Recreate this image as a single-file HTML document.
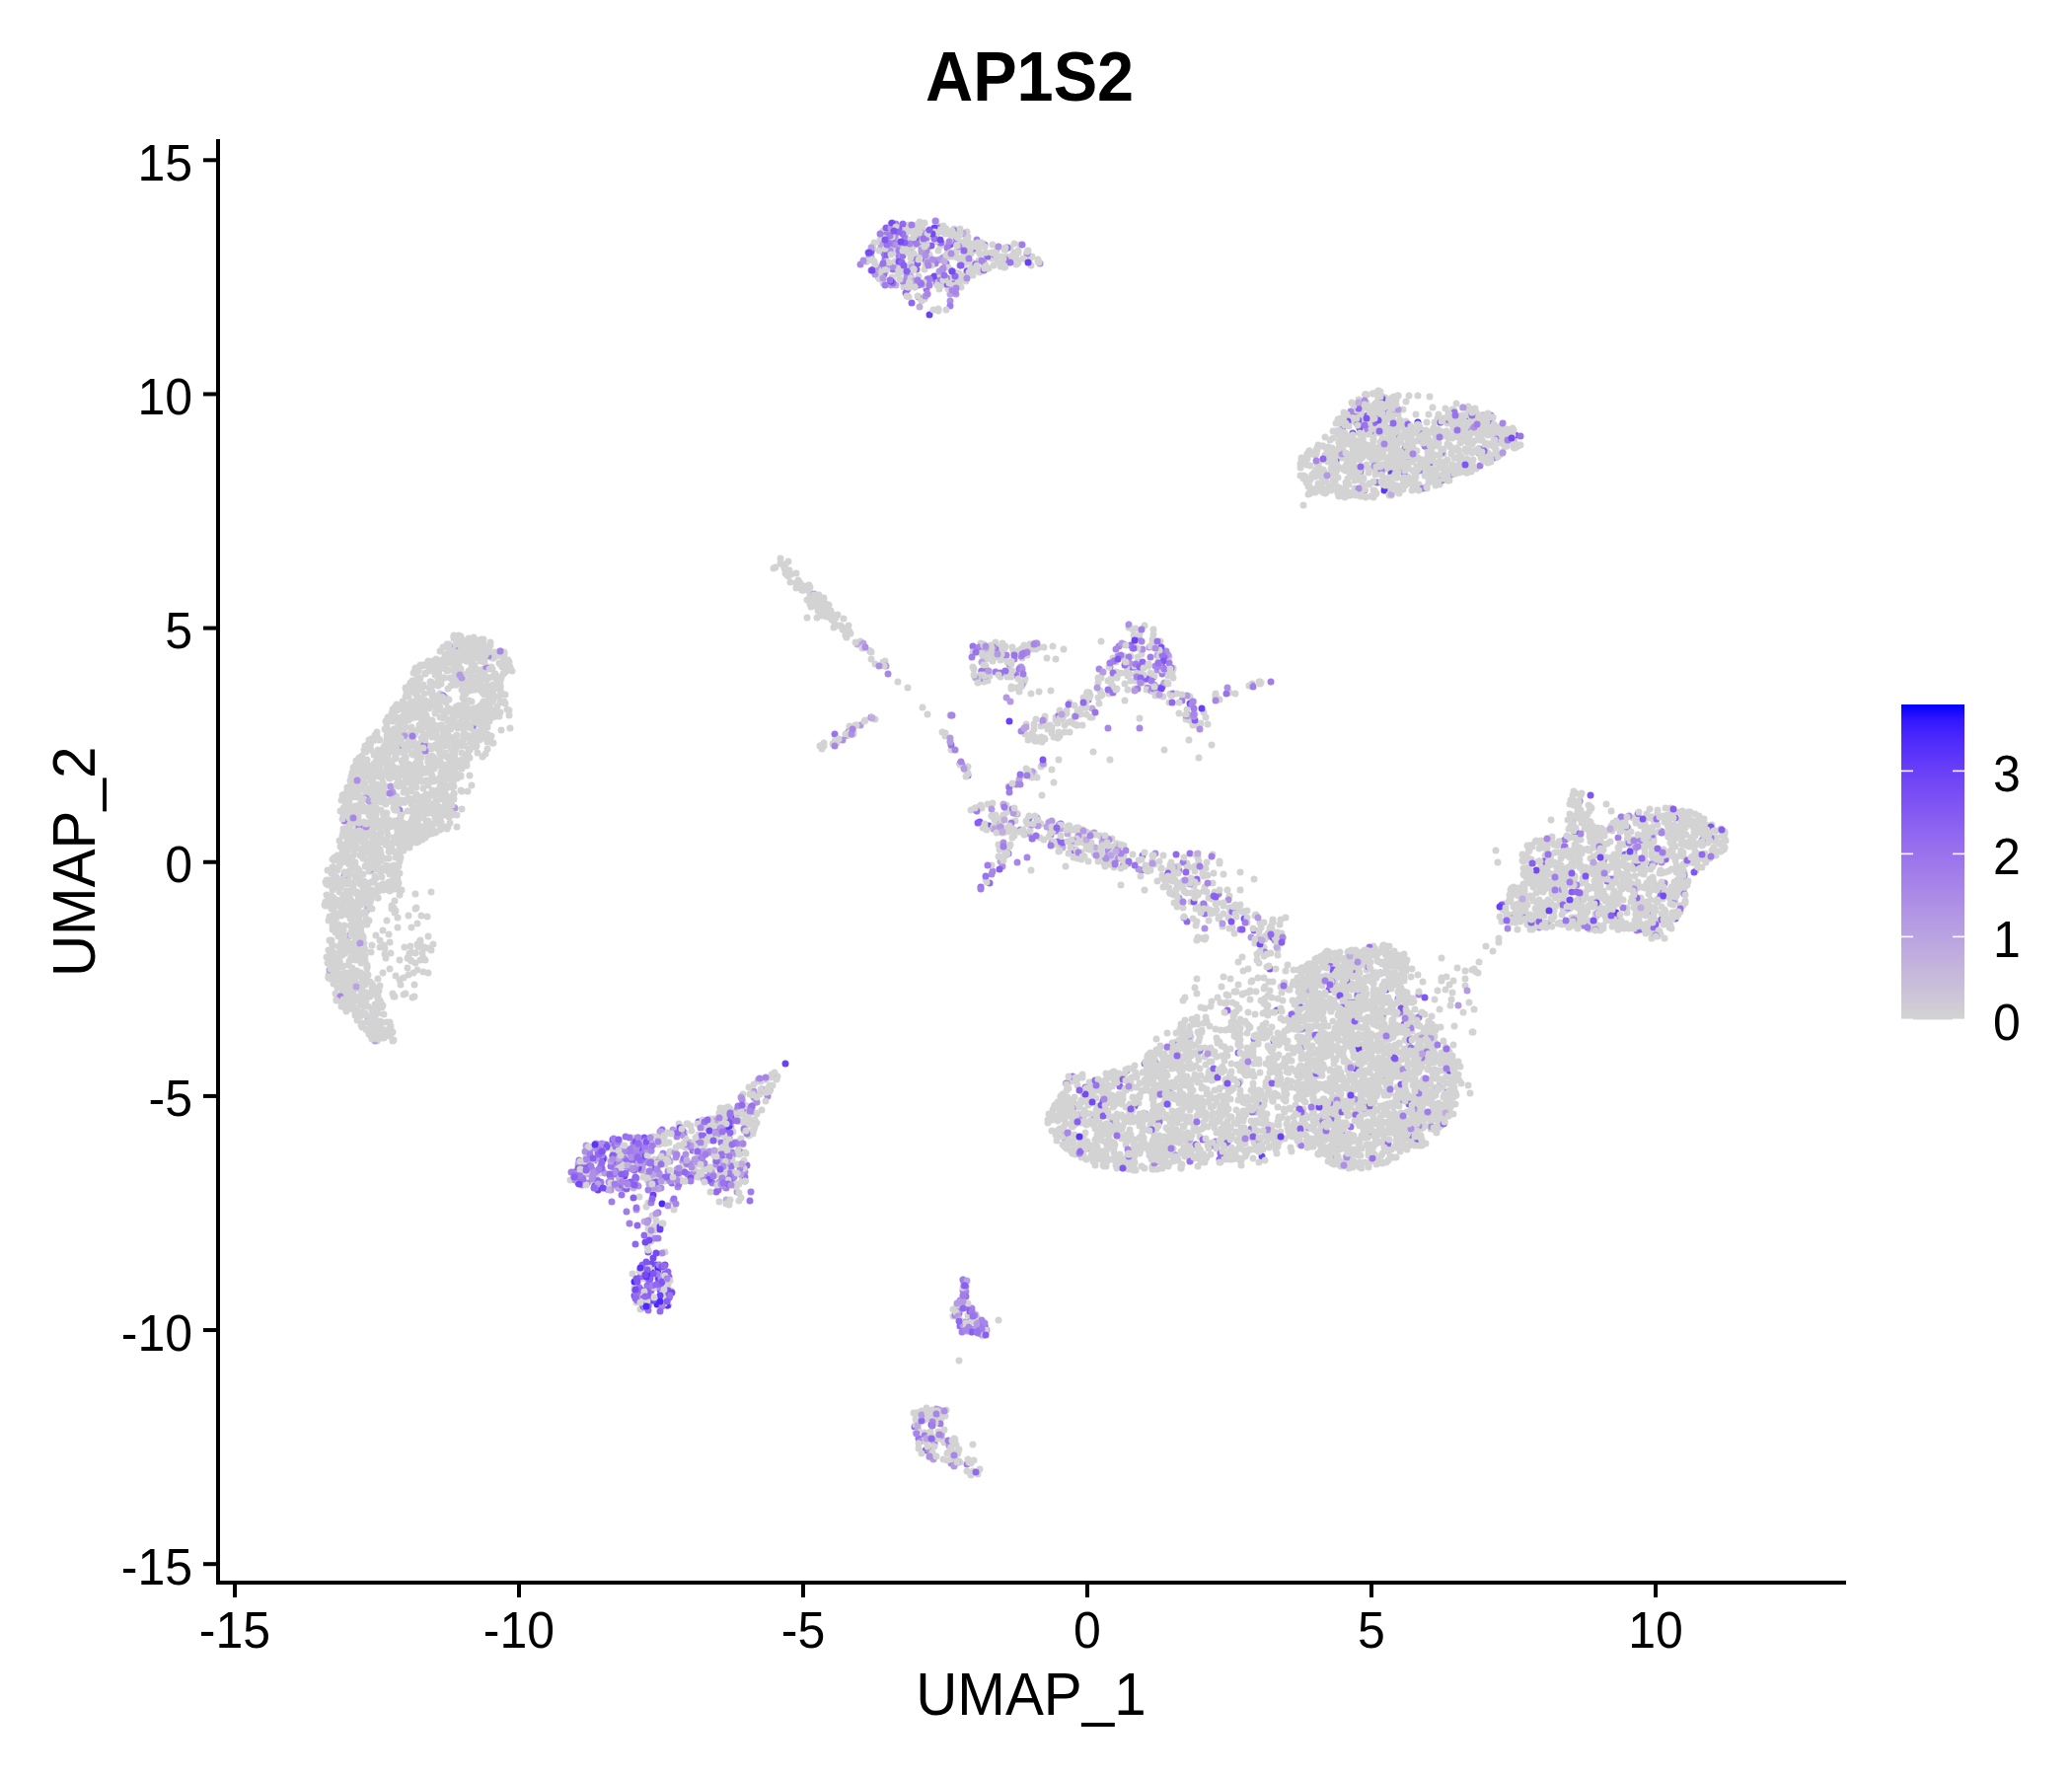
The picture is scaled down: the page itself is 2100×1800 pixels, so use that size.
<!DOCTYPE html>
<html><head><meta charset="utf-8"><title>AP1S2</title>
<style>html,body{margin:0;padding:0;background:#fff;overflow:hidden}svg{display:block}</style></head>
<body><svg width="2100" height="1800" viewBox="0 0 2100 1800" font-family='"Liberation Sans", Arial, sans-serif'>
<rect width="2100" height="1800" fill="#fff"/>
<defs><linearGradient id="g" x1="0" y1="1" x2="0" y2="0"><stop offset="0.000" stop-color="#d3d3d3"/><stop offset="0.050" stop-color="#cfcad6"/><stop offset="0.100" stop-color="#cac0d9"/><stop offset="0.150" stop-color="#c6b7db"/><stop offset="0.200" stop-color="#c1aede"/><stop offset="0.250" stop-color="#bba5e0"/><stop offset="0.300" stop-color="#b69ce3"/><stop offset="0.350" stop-color="#b093e5"/><stop offset="0.400" stop-color="#aa89e7"/><stop offset="0.450" stop-color="#a480ea"/><stop offset="0.500" stop-color="#9d77ec"/><stop offset="0.550" stop-color="#966eee"/><stop offset="0.600" stop-color="#8e65f0"/><stop offset="0.650" stop-color="#855bf2"/><stop offset="0.700" stop-color="#7c51f4"/><stop offset="0.750" stop-color="#7248f6"/><stop offset="0.800" stop-color="#673df8"/><stop offset="0.850" stop-color="#5932fa"/><stop offset="0.900" stop-color="#4926fb"/><stop offset="0.950" stop-color="#3318fd"/><stop offset="1.000" stop-color="#0000ff"/></linearGradient></defs>
<g fill="none" stroke-width="7" stroke-linecap="round"><path stroke="#d3d3d3" d="M915 234h0m34-1h0m10 1h0m0-2h0m8 0h0m-72 11h0m22-3h0m5 4h0m13 0h0m31 3h0m3-4h0m10 0h0m-80 11h0m18-6h0m36 1h0m36 2h0m21 3h0m22 0h0m-119 7h0m21-3h0m20 4h0m13-6h0m38 6h0m10-2h0m5 0h0m8-4h0m16 6h0m-158 3h0m37 2h0m84 2h0m13-4h0m3 1h0m22 3h0m-154 6h0m19-2h0m3 0h0m2 3h0m22-3h0m19 0h0m8 1h0m4 2h0m12-3h0m19 0h0m-94 11h0m15-4h0m22 2h0m10 5h0m-36 4h0m11 0h0m47 0h0m-37 12h0m458 95h0m4-1h0m-20 10h0m18-5h0m4 0h0m4 3h0m4 1h0m16 1h0m-41 6h0m8-2h0m1-1h0m59 3h0m13 1h0m17-1h0m13 1h0m-132 9h0m8-2h0m7-1h0m24-3h0m5 2h0m64 2h0m20 0h0m14 2h0m-147 2h0m15 1h0m1 2h0m1-3h0m4 3h0m2-4h0m4 3h0m6 1h0m7-4h0m4 5h0m17-3h0m0 2h0m6-1h0m33-1h0m1-2h0m4 0h0m4 5h0m7-3h0m5 1h0m10 3h0m7 1h0m12-4h0m-130 12h0m18-4h0m10 3h0m17 1h0m1-6h0m19 6h0m14-2h0m11 2h0m11-1h0m5-1h0m1 1h0m0-6h0m10 1h0m19-1h0m17 5h0m1-2h0m-174 10h0m4-2h0m2-1h0m11 5h0m4-7h0m13 7h0m14 0h0m9-7h0m9 3h0m2 0h0m7 4h0m14-4h0m21-2h0m17 1h0m15 3h0m13-5h0m22 7h0m-160 7h0m2-6h0m5 5h0m2-1h0m7 0h0m6 2h0m3-2h0m8 0h0m8-4h0m11 1h0m23 0h0m1 6h0m37-6h0m17 6h0m35-4h0m-215 10h0m0-1h0m1 1h0m8-5h0m12 2h0m12 3h0m17-4h0m25-1h0m12 4h0m9 0h0m13-3h0m29 3h0m8-1h0m0 1h0m15-2h0m-151 12h0m0 0h0m12-5h0m20 6h0m24-4h0m18 0h0m7 4h0m14-4h0m1-2h0m51 1h0m5-1h0m-169 9h0m39 0h0m30 2h0m2-1h0m16-1h0m22 1h0m6 2h0m17 2h0m17-2h0m7 1h0m-153 4h0m7 4h0m46-4h0m6 0h0m67 0h0m1 3h0m5-1h0m2 0h0m1 3h0m5-5h0m2-2h0m6 7h0m-125 1h0m23 3h0m27-2h0m17 1h0m27 1h0m-112 10h0m1-1h0m28-3h0m11 4h0m14-5h0m3 0h0m28 4h0m11-4h0m-631 75h0m-7 5h0m14 4h0m2-2h0m20 19h0m0-4h0m0 6h0m1-4h0m1 11h0m13 0h0m-17 2h0m3 4h0m3 1h0m2-2h0m5 1h0m2 1h0m9 6h0m0 7h0m3 3h0m7 5h0m4 5h0m295-2h0m18 1h0m-709 6h0m6 2h0m1-1h0m-6 10h0m13-2h0m5-2h0m5-2h0m2 2h0m4 3h0m519-3h0m58 4h0m-618 1h0m19 4h0m4-3h0m0 4h0m8-3h0m8 3h0m7 2h0m505-6h0m4 5h0m1-4h0m3 1h0m1 1h0m5-4h0m-580 14h0m15 1h0m10 0h0m0-2h0m10-3h0m15 1h0m16 0h0m5-3h0m378 4h0m12 3h0m2-1h0m144-6h0m29 4h0m70 2h0m45-4h0m-758 9h0m8 3h0m5 0h0m0 0h0m26-1h0m17 2h0m8-1h0m3-2h0m12-4h0m381 1h0m112 2h0m152 0h0m0 2h0m38 1h0m-763 9h0m0 0h0m9-7h0m33 3h0m31 3h0m3-3h0m9-1h0m483-1h0m9 4h0m18-1h0m1-2h0m110 5h0m51-6h0m-713 12h0m12-3h0m5 3h0m11 2h0m1-1h0m4-6h0m494 3h0m154-1h0m118 3h0m-857 6h0m4 2h0m5 2h0m16-7h0m9 7h0m31-6h0m11 3h0m4 1h0m541 0h0m91 2h0m4-7h0m118 6h0m6 1h0m-821 7h0m21-3h0m38 4h0m4 0h0m1-6h0m2 2h0m3 1h0m616-3h0m-705 9h0m3 5h0m2-1h0m9-3h0m0 1h0m7 0h0m3 2h0m2-5h0m6-1h0m0 2h0m17 5h0m3-3h0m2-1h0m22 4h0m0-4h0m11 4h0m586-7h0m-682 8h0m0 0h0m14 2h0m0 1h0m9 2h0m1-5h0m4 1h0m16-1h0m8 0h0m8 3h0m1 2h0m27-2h0m5 4h0m0-3h0m0 0h0m4 3h0m582-7h0m8 6h0m18 1h0m115 0h0m-824 4h0m0 0h0m6 3h0m5-4h0m8-2h0m15 0h0m2 1h0m25 3h0m15-4h0m7 2h0m2 3h0m3-1h0m0-2h0m6-2h0m1 2h0m3 1h0m381-1h0m163 4h0m10-5h0m152 0h0m22 5h0m-826 7h0m8-2h0m3 3h0m23-6h0m11 1h0m36 1h0m382 1h0m205 0h0m13 3h0m-705 8h0m2-1h0m8 1h0m1 0h0m12 1h0m5-1h0m13-6h0m34 2h0m7 1h0m7-2h0m8 1h0m392-2h0m100 7h0m76-7h0m35 2h0m-703 11h0m47-1h0m7 1h0m0-3h0m2 4h0m4-4h0m4 2h0m44-4h0m3 5h0m17-4h0m333 3h0m-463 4h0m7 0h0m3 5h0m10 1h0m4-4h0m13-1h0m17 2h0m22-2h0m4 4h0m11 0h0m16-5h0m8 3h0m480-3h0m-600 8h0m28 4h0m4 3h0m12-2h0m2-5h0m3 6h0m54 1h0m591 0h0m-701 8h0m6-6h0m7 1h0m14 0h0m2 4h0m9-1h0m1-4h0m5 6h0m28-2h0m15-5h0m5 7h0m12-1h0m3-5h0m4 2h0m-69 5h0m3 0h0m7 0h0m5 4h0m9-3h0m4-1h0m10 7h0m13-5h0m1 0h0m0 4h0m12-1h0m-111 9h0m4 1h0m14-5h0m34 3h0m18 1h0m5-6h0m27 6h0m568-1h0m-670 4h0m0-1h0m18 7h0m6-4h0m26 4h0m39-3h0m1 0h0m8 1h0m10 0h0m1135-3h0m2 2h0m6 0h0m-1237 10h0m25 1h0m8-1h0m5-1h0m6 0h0m4-4h0m4 1h0m5 2h0m6 0h0m9 3h0m4-3h0m1155 0h0m-1247 7h0m15 2h0m15-3h0m23-1h0m10 5h0m18 0h0m6 0h0m3 1h0m3-3h0m2-1h0m7-1h0m5 2h0m538-1h0m638 3h0m55-3h0m23 4h0m-1363 2h0m33 1h0m26-1h0m13 1h0m0-2h0m4 3h0m5 2h0m12-2h0m17-3h0m1131 7h0m4-4h0m14 0h0m37 1h0m3 2h0m24-1h0m5 2h0m10-4h0m21 4h0m0-2h0m5 0h0m10-2h0m2 3h0m-1366 3h0m15 1h0m17 4h0m14 1h0m20-3h0m9 0h0m5 2h0m1-3h0m3-1h0m12 4h0m560-4h0m41 1h0m8-2h0m21 4h0m519-3h0m1-2h0m4 1h0m4 5h0m28-6h0m4 1h0m1 5h0m1 1h0m24 0h0m34-4h0m5-2h0m5 1h0m1 2h0m4 0h0m16 0h0m-1386 10h0m2-1h0m2-3h0m9 0h0m6 3h0m14 1h0m10-4h0m14 5h0m2-1h0m7-3h0m0 4h0m31-6h0m0 0h0m579 0h0m69 6h0m3 0h0m0-6h0m498 3h0m1 0h0m1-4h0m0 7h0m15-5h0m4 4h0m47 1h0m12-3h0m1 1h0m9-2h0m6 3h0m13-1h0m1-2h0m12 1h0m1 3h0m21-5h0m9 3h0m-1390 8h0m12 0h0m0-3h0m3 5h0m2 0h0m15-2h0m14 2h0m6-7h0m6 2h0m638-1h0m33 5h0m40-4h0m455 3h0m7-4h0m22-1h0m4 6h0m1-5h0m16 4h0m21 0h0m1-1h0m1-1h0m1 3h0m12 0h0m1 0h0m7-4h0m28-1h0m35 0h0m7 5h0m-1366 7h0m2 0h0m3 0h0m9 2h0m624-2h0m56 0h0m1-2h0m15 2h0m38-3h0m4 4h0m384 0h0m37-4h0m11 1h0m32 1h0m57-2h0m3-1h0m18 2h0m1 2h0m3-1h0m20-2h0m11-2h0m9 7h0m7-6h0m22 1h0m-1410 13h0m11 0h0m4-2h0m14-3h0m12 5h0m4-5h0m12 4h0m7-1h0m3-3h0m688 4h0m7-2h0m12-2h0m7 1h0m50 0h0m401 2h0m15-2h0m4 0h0m3 2h0m10-4h0m73-1h0m16 3h0m6 1h0m31 1h0m5 1h0m-1375 5h0m19-2h0m1-1h0m752 7h0m32-2h0m26 1h0m16-3h0m2 4h0m6-1h0m12-4h0m324-2h0m19 6h0m6-3h0m2 1h0m1-2h0m4 1h0m14 1h0m9 1h0m17 0h0m34 2h0m23-4h0m32 0h0m20-3h0m-1374 14h0m8 0h0m23-4h0m1-1h0m8 3h0m1 2h0m3-5h0m3 1h0m1-2h0m1 7h0m775 0h0m6-5h0m4-1h0m52 5h0m304 0h0m2-6h0m5 3h0m7 1h0m16 2h0m6-3h0m2-3h0m4 2h0m18 1h0m1-3h0m10 1h0m10 1h0m1 0h0m81 2h0m-1371 11h0m61 0h0m802-2h0m2 0h0m3 0h0m10 1h0m15 1h0m323 0h0m8-1h0m11 0h0m3-1h0m12-5h0m3 0h0m6 4h0m11 2h0m12-4h0m27 2h0m0 0h0m1 0h0m5-4h0m21 6h0m4 0h0m21 0h0m3-2h0m7-4h0m4 5h0m-1374 3h0m4 3h0m1-2h0m26 2h0m29-3h0m2 5h0m3-1h0m758 2h0m50-4h0m321 4h0m2 1h0m12-3h0m10-2h0m11 0h0m12 1h0m12-2h0m33 6h0m2 0h0m6-4h0m12 2h0m33-3h0m21 2h0m3-3h0m2 1h0m4 4h0m1-3h0m-1363 5h0m4 4h0m6-3h0m1 6h0m5-6h0m4 4h0m2-4h0m2 6h0m3-1h0m50-4h0m782-1h0m43 3h0m284-1h0m3-3h0m40 0h0m2 0h0m1 2h0m8 1h0m3-2h0m19 2h0m1 1h0m14 2h0m1-3h0m2-1h0m12 2h0m18 2h0m34-5h0m-1358 13h0m2-5h0m10 4h0m4 2h0m2-6h0m0 1h0m6-2h0m1 5h0m10 0h0m842-3h0m12 2h0m3 3h0m300 0h0m26-2h0m15-1h0m34 2h0m5 0h0m16 0h0m12-5h0m8 3h0m7-4h0m15 7h0m3-5h0m16 0h0m26 4h0m-1367 3h0m16 3h0m5-2h0m6 4h0m862-3h0m20 1h0m7-2h0m5 2h0m270 3h0m5 0h0m11-1h0m11-5h0m5 1h0m56 4h0m18-6h0m14 0h0m10 5h0m4-3h0m3-1h0m6 4h0m3-3h0m-1339 9h0m20 0h0m6 4h0m12-2h0m18 0h0m833 0h0m47-5h0m18 6h0m13-4h0m233 5h0m0-7h0m24 3h0m15-2h0m6 6h0m15-5h0m4 0h0m4-2h0m6 6h0m6 0h0m15-6h0m46 6h0m3-1h0m12-1h0m3-3h0m-1348 13h0m1 1h0m15-6h0m3 0h0m883 3h0m38 1h0m2 0h0m262 1h0m48-1h0m26 0h0m25-2h0m4 1h0m4-3h0m3-1h0m7 3h0m5 1h0m20-2h0m-1333 7h0m1 3h0m33-1h0m820 3h0m78-4h0m381-1h0m4 0h0m0 1h0m3 3h0m3-2h0m-1339 12h0m12-2h0m6-1h0m0 2h0m4-4h0m60 2h0m13 1h0m782-5h0m171 7h0m114 0h0m-1171 7h0m14-1h0m11-4h0m1 1h0m35 4h0m885-6h0m64 4h0m0 2h0m25-2h0m16 2h0m14-2h0m6 1h0m3 2h0m-1071 8h0m2-3h0m1-4h0m14 5h0m11 2h0m1 0h0m38-2h0m9-3h0m1 2h0m880-4h0m38 6h0m0-2h0m2 1h0m19-4h0m10 2h0m12-1h0m7 3h0m24-5h0m1 1h0m1 0h0m3-1h0m2 0h0m0 6h0m6-5h0m-1079 14h0m0-7h0m5 4h0m959-2h0m6 5h0m13-4h0m4-2h0m1 2h0m46 0h0m10 4h0m19-5h0m9 1h0m81 3h0m-1158 3h0m7 2h0m4 0h0m15-3h0m941 0h0m16 3h0m4-3h0m9 2h0m1 4h0m59-4h0m13-1h0m3 5h0m29-2h0m-1099 9h0m1-2h0m13-3h0m13 5h0m10-2h0m8-3h0m22 1h0m15 5h0m849-4h0m42 1h0m4 4h0m3-3h0m3 0h0m7 3h0m3-1h0m3-4h0m2-2h0m15 3h0m2 2h0m7 1h0m10-1h0m18-3h0m4-2h0m16 7h0m3-1h0m4 0h0m54 0h0m-1122 8h0m11-5h0m0 4h0m19-4h0m2 1h0m5 2h0m27 3h0m802 0h0m86-1h0m18-2h0m3 2h0m11-5h0m31-1h0m2 0h0m18 5h0m11-2h0m-1037 11h0m8-3h0m3 1h0m2-2h0m6-2h0m8 4h0m2 2h0m816-3h0m44-2h0m37 3h0m40 2h0m7 0h0m22 1h0m24-5h0m4 1h0m1-3h0m2 3h0m10-1h0m1-2h0m12 4h0m66 1h0m-1116 5h0m31 0h0m2 1h0m833 3h0m22-6h0m38 1h0m35 0h0m25 2h0m7 3h0m1-4h0m3 2h0m13 2h0m7 1h0m0-2h0m7-2h0m12 2h0m18 2h0m-1030 8h0m834 0h0m29-5h0m11-1h0m32 4h0m39 0h0m1-1h0m16-2h0m16 1h0m2 4h0m32-7h0m1 1h0m5 0h0m8 0h0m19-1h0m14 7h0m2-4h0m2 0h0m-1066 9h0m3-3h0m0 2h0m835 3h0m6-1h0m60 2h0m3-2h0m28 0h0m48-2h0m1-3h0m3 3h0m29 3h0m0-3h0m19 1h0m4 3h0m16 0h0m-1060 4h0m19 1h0m0 2h0m6-2h0m805 3h0m5 0h0m0-7h0m9 7h0m31-4h0m11-1h0m9 0h0m16 3h0m34-1h0m9-2h0m2 0h0m2-1h0m11-1h0m13 4h0m0-2h0m9 1h0m0 2h0m1-1h0m14-3h0m29 5h0m9 1h0m28-4h0m1 2h0m-1068 5h0m5 1h0m1 4h0m813-1h0m5-2h0m7-1h0m26 1h0m1 3h0m17-5h0m6 4h0m15-3h0m1-2h0m8 0h0m2 2h0m18 0h0m20 1h0m15 3h0m9-2h0m4-1h0m40 1h0m9-4h0m6 3h0m0 2h0m7-3h0m39 1h0m-274 8h0m9 1h0m7-5h0m63 3h0m41 0h0m22 0h0m5-3h0m16 7h0m26-6h0m10 6h0m5-2h0m0 1h0m1-3h0m6 4h0m2-2h0m12-4h0m7 3h0m6-1h0m39 1h0m0-2h0m12 5h0m8-4h0m-308 9h0m4 0h0m4-2h0m15 1h0m16 4h0m2-1h0m8 0h0m19 1h0m29 0h0m72-4h0m6-2h0m45 3h0m5 2h0m15-4h0m4 5h0m6-6h0m17 4h0m8-2h0m25 1h0m4-2h0m-306 12h0m2-3h0m3 0h0m3 0h0m3 4h0m4 0h0m1-4h0m3 3h0m2 0h0m13-3h0m18-1h0m11 2h0m62 0h0m17-3h0m17-1h0m4 4h0m26-2h0m0 0h0m31 2h0m16 3h0m40-1h0m2-4h0m5-2h0m1 3h0m16 1h0m9 3h0m-345 8h0m23-7h0m8 7h0m38-1h0m2-5h0m50 5h0m11-1h0m0-4h0m32 0h0m13 5h0m38-4h0m24 0h0m28 0h0m5 2h0m9-4h0m1 4h0m4 1h0m5-4h0m5 2h0m2 3h0m-641 3h0m4 2h0m303 4h0m35-3h0m50-4h0m18 5h0m3 0h0m25 1h0m2-2h0m2 1h0m6-3h0m13 4h0m1 1h0m23-5h0m82 5h0m1-5h0m4 4h0m5 0h0m7-1h0m0-4h0m3 4h0m11-2h0m11 3h0m3-3h0m7-2h0m21 5h0m42-3h0m6 2h0m6-4h0m-710 7h0m315 7h0m3-7h0m18 1h0m59 2h0m9 3h0m10-5h0m0 1h0m14 3h0m5-4h0m2 1h0m3 5h0m12 0h0m39-7h0m43 3h0m14 4h0m4-1h0m1 0h0m21 0h0m10 0h0m4-1h0m3 1h0m30-4h0m15-2h0m30 4h0m14-4h0m12 7h0m4-1h0m-387 9h0m23-2h0m2 2h0m7-3h0m14 0h0m12 3h0m7-6h0m15 5h0m2-4h0m16 4h0m1-4h0m1-1h0m8 2h0m24-2h0m16 4h0m23-3h0m11-1h0m15 4h0m21 0h0m2 1h0m22-2h0m15-2h0m47 4h0m7-5h0m3 5h0m6 1h0m8-4h0m6 1h0m36-1h0m10 3h0m19-2h0m-721 9h0m12 1h0m307-1h0m9-5h0m8 0h0m7 3h0m5 1h0m1-4h0m9 1h0m16 1h0m1 2h0m7 1h0m10 2h0m24-3h0m12-1h0m13-2h0m1 5h0m6-6h0m0 7h0m2-2h0m14-4h0m16 4h0m8-1h0m2-4h0m4 2h0m43 2h0m13 0h0m11-4h0m6 1h0m11 2h0m7 4h0m4-5h0m1 2h0m32 1h0m2-2h0m1 0h0m9 3h0m6-1h0m13 2h0m23-3h0m9 1h0m5-2h0m9-3h0m4 7h0m17-7h0m-725 12h0m321-4h0m13 5h0m2-3h0m27 3h0m0 2h0m34 0h0m1-7h0m29 5h0m1 2h0m18-1h0m2 1h0m15-6h0m3 2h0m58-1h0m8-2h0m21 4h0m6-1h0m14 1h0m9 1h0m12-5h0m4 6h0m10-2h0m0 3h0m21-6h0m10 3h0m45 2h0m7-4h0m9 5h0m3 0h0m7-4h0m4-3h0m2 7h0m-740 7h0m21-3h0m7-3h0m314 3h0m22-3h0m60 5h0m6 2h0m1-1h0m0-5h0m8 5h0m10-6h0m9 2h0m5 4h0m1-1h0m9-1h0m5 1h0m1-1h0m39-3h0m39 1h0m15 4h0m25-2h0m10-4h0m3 6h0m16-4h0m2 2h0m38-4h0m11 2h0m13 4h0m1-4h0m8 3h0m18-2h0m19 0h0m5-1h0m-777 9h0m42 0h0m35 3h0m297-4h0m26 0h0m3-1h0m2-1h0m10 3h0m6-2h0m15 5h0m7-1h0m59-5h0m10 6h0m10-2h0m30 0h0m49 1h0m24 0h0m5 0h0m4-3h0m6 5h0m3-7h0m10 7h0m6-4h0m2-2h0m4 5h0m24-3h0m1 2h0m39 2h0m0-5h0m11 3h0m1-5h0m11 5h0m0-5h0m2 1h0m0 6h0m15-2h0m1 2h0m0 0h0m4-4h0m2-1h0m-791 11h0m15-1h0m6 0h0m31 0h0m13 1h0m328-3h0m4 2h0m4-4h0m2 2h0m7 2h0m6 2h0m26 0h0m5-1h0m2-1h0m19 2h0m4 0h0m12 1h0m7-6h0m3-1h0m2 3h0m3-3h0m12 1h0m49 3h0m3-1h0m24 4h0m4-1h0m26-2h0m45 3h0m2-1h0m6-2h0m48 3h0m1-1h0m26-3h0m1 4h0m16-5h0m15-2h0m-822 14h0m45-5h0m1 6h0m397-3h0m15 1h0m12-5h0m14 2h0m23-2h0m22 6h0m12-3h0m23 2h0m6-3h0m18-2h0m22 0h0m1 5h0m17-3h0m6 5h0m5-6h0m2 1h0m21 0h0m6 4h0m14-6h0m23 5h0m4 0h0m3 2h0m19 0h0m3-4h0m32 2h0m9-3h0m4 2h0m9-3h0m15 2h0m2-1h0m1 0h0m-755 13h0m34-3h0m24 0h0m369-1h0m35-3h0m9 7h0m9-7h0m41 3h0m5-3h0m7 0h0m12 1h0m17 1h0m11 5h0m79-5h0m7-2h0m1 5h0m11-2h0m8 0h0m15 2h0m5-3h0m0-1h0m39-1h0m4 1h0m-827 11h0m18 1h0m486-1h0m3 3h0m34-5h0m7 3h0m2-3h0m11-1h0m26 6h0m12-3h0m17 2h0m36 1h0m6-6h0m4 5h0m14 0h0m66-5h0m12 3h0m23-4h0m6 3h0m2 0h0m10-3h0m26 5h0m-723 5h0m11 0h0m6 2h0m32-3h0m2 4h0m365-4h0m38 2h0m26-2h0m7 1h0m3 3h0m1-2h0m9-3h0m5 6h0m9-5h0m31 1h0m20-2h0m93 3h0m8-2h0m18 4h0m-774 9h0m5-1h0m32-5h0m29 5h0m36-3h0m10-1h0m22 4h0m414-4h0m18 0h0m29-1h0m-619 12h0m94 1h0m2 0h0m21 0h0m27 1h0m30-5h0m-3 7h0m-101 13h0m35 13h0m-26 19h0m3 13h0m14 11h0m-19 17h0m14-4h0m2 9h0m6 11h0m299-5h0m-333 8h0m29 8h0m318 22h0m-9 14h0m8-1h0m6-4h0m1 10h0m-67 78h0m9 6h0m6-1h0m2-2h0m8 2h0m-17 15h0m20-3h0m15 20h0m-1 4h0m-6 10h0m6-1h0"/><path stroke="#c0acde" d="M932 227h0m24 45h0m-48 17h0m199 429h0m-90 109h0m14-2h0m632 89h0m-235 128h0m-710 100h0m23 0h0m-55 52h0m50 22h0"/><path stroke="#baa3e1" d="M882 660h0m732 179h0m-498 29h0m-426 278h0m-70 13h0m79-1h0m-85 4h0m383 185h0"/><path stroke="#b499e3" d="M961 249h0m-76 25h0m537 203h0m-586 146h0m62 52h0m-26 60h0m-462 11h0m597 82h0m562 108h0m-965 223h0m88 18h0m40 8h0m-23 7h0m268 108h0m-28 128h0"/><path stroke="#ae8fe6" d="M1000 258h0m-50 6h0m-30 29h0m469 136h0m82 52h0m-338 184h0m40 14h0m-729 70h0m584 75h0m105 46h0m112 42h0m430 14h0m-115 14h0m-1187 94h0m359 99h0m429-4h0m-435 23h0m-129 24h0m13 1h0m93 12h0m276 120h0m-6 9h0m13 30h0"/><path stroke="#a886e8" d="M917 239h0m73 4h0m-56 10h0m-62 15h0m59 33h0m478 133h0m30 43h0m-285 169h0m-1 28h0m-155 6h0m32 4h0m137 0h0m-202 41h0m190 13h0m-121 103h0m628 11h0m-467 30h0m369 37h0m94-6h0m-880 198h0m-14 1h0m324 10h0m-339 7h0m-63 23h0m19 9h0m-93 13h0m-8 2h0m31 6h0m-51 6h0m-1 4h0m104 11h0m289 105h0m-12 175h0"/><path stroke="#a17ceb" d="M950 235h0m-33 7h0m17 1h0m-11 8h0m-27 6h0m72 2h0m-44 12h0m-39 2h0m64 13h0m562 135h0m-4 8h0m-104 5h0m44 4h0m-281 228h0m-41 10h0m60-4h0m-176 9h0m169 2h0m20 27h0m-708 17h0m-87 105h0m1220 8h0m17 9h0m-519 27h0m22-1h0m56-1h0m370 25h0m137 5h0m-174 27h0m-250 34h0m106 94h0m-605 31h0m317 12h0m56 31h0m112 11h0m5 20h0m-648 5h0m117-1h0m-148 13h0m11 7h0m92 2h0m-78 4h0m136 3h0m-124 7h0m4 24h0m336 96h0m13 13h0m-47 118h0m10 8h0"/><path stroke="#9972ed" d="M900 246h0m-3 16h0m111-4h0m-103 15h0m-14 9h0m500 143h0m33 29h0m-28 35h0m-387 169h0m166 18h0m-180 4h0m133 22h0m115 1h0m-794 2h0m397 39h0m177 54h0m651 50h0m-89 10h0m1 0h0m-428 9h0m48-2h0m-49 17h0m64 44h0m335 11h0m-168 23h0m-16 23h0m4 25h0m-105 45h0m-100 25h0m-94 39h0m-330 8h0m386 50h0m-400 12h0m-44 9h0m-62 8h0m101 2h0m-98 5h0m130 6h0m-112 88h0m324 26h0"/><path stroke="#9168ef" d="M899 249h0m9 3h0m-14 18h0m35 3h0m475 144h0m84 5h0m-61 8h0m-275 254h0m-69 30h0m518 98h0m-409 54h0m-54 12h0m491 15h0m71 1h0m-96 44h0m-239 56h0m58 44h0m15 27h0m4-1h0m25 43h0m-796 38h0m42 6h0m420-3h0m-469 11h0m771-1h0m-821 2h0m491 4h0m-499 5h0m26 10h0m101-3h0m-139 10h0m16 0h0m-24 13h0m49 0h0m46 0h0m45 9h0m-73 44h0m-2 30h0m1 31h0m22 7h0m302 23h0m-3 1h0"/><path stroke="#895ff1" d="M946 233h0m-39 13h0m23-5h0m-15 12h0m48-5h0m450 193h0m284 396h0m33 14h0m-609 20h0m63 14h0m409 19h0m91 28h0m-365 89h0m-539 84h0m405 2h0m-588 58h0m38 0h0m-44 17h0m29-4h0m10 0h0m113 21h0m195 271h0"/><path stroke="#7f55f3" d="M910 268h0m571 178h0m52 1h0m2 5h0m-432 257h0m-110 124h0m627 10h0m-333 139h0m79 29h0m-176 48h0m-569 96h0m-30 31h0m6-2h0m60 85h0m0 37h0m20 17h0"/><path stroke="#754af5" d="M1418 444h0m31 28h0m121 379h0m-192 152h0m27 0h0m-296 131h0"/><path stroke="#6940f7" d="M925 273h0m17 46h0m-191 849h0m603 5h0m-729 4h0m37 34h0m3 71h0m4 25h0"/><path stroke="#4b28fb" d="M671 1220h0m-28 79h0"/><path stroke="#d3d3d3" d="M921 228h0m11-3h0m17-1h0m2 5h0m-39 5h0m10 0h0m4 2h0m5 2h0m-37 2h0m1 5h0m2-4h0m11-1h0m31 5h0m39 0h0m3-5h0m1 6h0m46 1h0m-126 2h0m5 0h0m2 5h0m3-5h0m4 3h0m25-1h0m36 2h0m8 0h0m21-5h0m13 5h0m5-2h0m18 3h0m-159 3h0m77 0h0m5 3h0m3-3h0m41 0h0m17 2h0m20 1h0m6 3h0m-150 7h0m11-6h0m28 2h0m38 0h0m13-2h0m22 6h0m9-5h0m7 3h0m1-1h0m-134 6h0m1 2h0m12 3h0m4-5h0m72 6h0m2-5h0m-37 9h0m17 3h0m3-4h0m-39 6h0m21 1h0m-19 16h0m17 10h0m0-2h0m441 86h0m5 8h0m0-3h0m5 0h0m2-1h0m9-1h0m4-1h0m-45 9h0m2 0h0m5 3h0m15-3h0m8 1h0m70 4h0m-97 6h0m4-4h0m9 1h0m13 1h0m14-2h0m1 0h0m32 3h0m26-4h0m7 5h0m9-5h0m1 7h0m7 0h0m-144 6h0m9-4h0m3 2h0m6-1h0m8 2h0m3-1h0m19-3h0m52 4h0m3-4h0m14 2h0m1 3h0m5-3h0m10 3h0m9-3h0m-145 11h0m12 2h0m22-3h0m1 2h0m3-6h0m15 0h0m23 4h0m7-1h0m3 2h0m0 1h0m5 1h0m31-5h0m16 1h0m5 3h0m11-6h0m2 0h0m4 5h0m10-4h0m2 2h0m9 1h0m-168 10h0m3-2h0m14 2h0m4-6h0m27 4h0m18-3h0m1-1h0m9 5h0m8 2h0m7-3h0m1 1h0m19-5h0m10 4h0m17-4h0m16 4h0m11-3h0m2 2h0m-195 8h0m12 4h0m2-1h0m21 1h0m3-3h0m6 0h0m2 3h0m1-2h0m28-2h0m9-3h0m12 5h0m12-2h0m4 1h0m32-3h0m12 1h0m19 1h0m16 1h0m-200 5h0m6 4h0m24 0h0m2-5h0m12 4h0m2 0h0m2 3h0m4-6h0m2 6h0m7 0h0m3-4h0m19-2h0m10 3h0m7-2h0m7 5h0m15-5h0m48-2h0m8 0h0m0 5h0m1-4h0m-156 14h0m2-3h0m13 2h0m6-3h0m7-1h0m28 4h0m1-2h0m1 1h0m32-3h0m0 3h0m4-3h0m8 1h0m4 2h0m3-2h0m1 3h0m7-4h0m5 5h0m9-5h0m12 0h0m8-2h0m2 0h0m1 3h0m3 0h0m4 1h0m-169 10h0m10-6h0m2 1h0m1 3h0m8 0h0m3 0h0m5-2h0m25 5h0m10-4h0m10-1h0m5-2h0m16 4h0m2-2h0m26-1h0m10 5h0m1 1h0m5-1h0m5 1h0m1-4h0m9 0h0m-166 6h0m64 0h0m16 0h0m13 5h0m3-3h0m8-3h0m20 5h0m13 2h0m-110 7h0m45-2h0m5 2h0m1-1h0m2-4h0m18 1h0m4 2h0m-104 4h0m28 4h0m8-3h0m4 5h0m8-4h0m3 5h0m10 0h0m6-3h0m23 0h0m-625 72h0m6-3h0m-2 13h0m4 8h0m13 8h0m7 6h0m1 11h0m1-1h0m4 0h0m1-6h0m9 7h0m3-2h0m-9 4h0m15 8h0m12 13h0m286-2h0m16-2h0m-680 12h0m378 0h0m1-3h0m290 1h0m-686 9h0m7-4h0m4 0h0m12 0h0m2-1h0m2 0h0m7 6h0m375-4h0m166 4h0m6-1h0m4-1h0m102-1h0m18 1h0m-722 8h0m5 3h0m10 0h0m5-3h0m3-4h0m5 7h0m2-3h0m12-4h0m4 5h0m4-4h0m15 6h0m479-2h0m3-2h0m42-1h0m1-1h0m7-1h0m10 0h0m104 7h0m-723 8h0m5-1h0m13 0h0m9-4h0m3 0h0m7-1h0m2 5h0m0-6h0m16 3h0m1 2h0m20-2h0m6 4h0m493-5h0m1-1h0m6 2h0m20 0h0m95 4h0m15-6h0m-725 12h0m11-3h0m2 0h0m0 0h0m9 1h0m9 3h0m7-6h0m31 6h0m8-2h0m12-3h0m0 3h0m4 2h0m382-3h0m127 4h0m123-3h0m7-4h0m11 3h0m25 2h0m-766 9h0m1-6h0m7 3h0m19 4h0m538-1h0m6-2h0m3 0h0m119 3h0m29-4h0m-720 5h0m11 3h0m26 3h0m1-5h0m19 3h0m1-4h0m518 2h0m37 1h0m88-3h0m1 7h0m150-4h0m-865 8h0m11 2h0m3-2h0m9-2h0m35 6h0m1-3h0m1 3h0m4-3h0m4-4h0m440 1h0m125 6h0m87-5h0m18 0h0m36 5h0m46 0h0m-815 8h0m6-5h0m9 5h0m6-1h0m7-3h0m24 0h0m636-2h0m66 0h0m8 1h0m53 0h0m-808 7h0m20 5h0m26-2h0m0-1h0m22 3h0m2-3h0m10 1h0m585-1h0m25-2h0m89 6h0m-804 7h0m25-1h0m1 2h0m4-3h0m3 1h0m27 1h0m5-4h0m20 0h0m13 5h0m443-3h0m130 3h0m8-2h0m14-4h0m3 3h0m-654 11h0m13-4h0m1 1h0m29 2h0m5 0h0m559 0h0m29-6h0m2 7h0m127-5h0m5 3h0m2 2h0m3 0h0m-823 5h0m9-2h0m19 5h0m29 0h0m1-1h0m3 0h0m10-4h0m11-1h0m13 3h0m377 1h0m0 1h0m190-6h0m11 7h0m-686 2h0m0 5h0m22-3h0m4 2h0m22-1h0m10-1h0m16 0h0m24 0h0m1 4h0m5-7h0m362 7h0m19-7h0m180 1h0m4 6h0m10-2h0m9-2h0m-679 10h0m9 0h0m5 1h0m7 1h0m5-6h0m11 3h0m28-1h0m8 4h0m14 0h0m4-2h0m14 2h0m339 0h0m11-5h0m3-1h0m1 0h0m-466 10h0m1-3h0m6 1h0m8 1h0m13 1h0m1-3h0m10 2h0m25 2h0m13-1h0m0-1h0m30 5h0m-128 4h0m30-3h0m16 3h0m2 3h0m16-5h0m2-1h0m7 4h0m1 3h0m11-5h0m15-2h0m0 6h0m-103 9h0m3-1h0m12-4h0m2-1h0m4 3h0m6-4h0m24 5h0m2 2h0m12-3h0m9-1h0m8-2h0m7 6h0m4-4h0m9 0h0m518 1h0m3-3h0m67 6h0m-677 4h0m13 0h0m3 1h0m18-2h0m15 3h0m6 1h0m31 0h0m579-4h0m8-2h0m2 4h0m-692 10h0m12 0h0m11-5h0m14 4h0m6 2h0m14-6h0m6 5h0m1 0h0m11 1h0m18 0h0m5-3h0m-99 4h0m5 1h0m5 4h0m9-5h0m5 5h0m1-5h0m0 1h0m3 2h0m1-2h0m15 6h0m2-1h0m-51 4h0m18 4h0m1-2h0m12-4h0m10 3h0m16 3h0m2-3h0m4 0h0m23 0h0m23-3h0m3 2h0m1134 2h0m-1249 10h0m15-5h0m3 2h0m12-1h0m6 3h0m20-5h0m16 6h0m2 1h0m6 0h0m0-1h0m7-6h0m14 5h0m7 2h0m1-5h0m1 4h0m5-4h0m529 1h0m1 1h0m690 1h0m14 1h0m0 0h0m-1344 2h0m6 3h0m1 3h0m20 1h0m15-7h0m27 0h0m5 6h0m27-4h0m4 2h0m1214-3h0m4 3h0m-1320 5h0m1-1h0m3 1h0m22 2h0m5 4h0m2-5h0m3-1h0m10 0h0m4 2h0m5-1h0m2 1h0m1 2h0m10 1h0m1-3h0m20-3h0m14 2h0m555 0h0m18-2h0m54 5h0m8 2h0m516-3h0m12 3h0m31 0h0m30-3h0m7-3h0m11 4h0m23-4h0m8 3h0m-1379 4h0m8 7h0m7 0h0m3 0h0m4 0h0m3-7h0m18 6h0m9 1h0m3-2h0m14-1h0m2-1h0m5 0h0m2-3h0m5 6h0m20-6h0m562 4h0m581-1h0m15 1h0m11 3h0m4 0h0m16-4h0m7 1h0m18-2h0m6 1h0m21 1h0m3 3h0m1-3h0m8 0h0m0-2h0m40 0h0m-1402 10h0m24 2h0m0-4h0m13 1h0m17 3h0m1-5h0m11 3h0m2 0h0m4 3h0m2-7h0m658 7h0m12-2h0m10 1h0m1-1h0m463 2h0m55-7h0m4 7h0m1-7h0m7 7h0m26-4h0m40 3h0m15 0h0m6-2h0m15 2h0m18-2h0m-1388 4h0m2 4h0m6-4h0m1 1h0m0 5h0m7 0h0m8 1h0m21 0h0m9-4h0m708-1h0m9 0h0m417 5h0m13-5h0m6 5h0m7-7h0m42 2h0m2-2h0m5 6h0m17-1h0m25-3h0m71 1h0m10 2h0m-1408 8h0m31-4h0m16 3h0m4 2h0m629-3h0m77 2h0m18 0h0m14-4h0m8 4h0m3-1h0m75 1h0m333-1h0m2 2h0m20-5h0m2 4h0m57 0h0m8-3h0m10 1h0m10-2h0m0 4h0m7 1h0m23-6h0m3 6h0m0-2h0m17-4h0m0 4h0m12 2h0m2-5h0m19 2h0m-1400 5h0m15 4h0m6 3h0m13-1h0m1 1h0m9-7h0m3 0h0m9 6h0m4 0h0m4-1h0m718-3h0m6 2h0m13 2h0m14-6h0m16 4h0m5-3h0m374 6h0m11-6h0m9 1h0m20 5h0m5-1h0m27 0h0m4-4h0m13 5h0m18-4h0m8 0h0m10 2h0m32-1h0m10-2h0m13 0h0m-1392 7h0m39 2h0m12-3h0m789 0h0m34 3h0m8 3h0m11-1h0m314-5h0m8 5h0m17 1h0m11 1h0m40-4h0m5-2h0m15 2h0m3 3h0m24-4h0m24 1h0m11-3h0m4 2h0m0 1h0m-1372 9h0m18-2h0m1 0h0m9 4h0m7-1h0m8 1h0m4-4h0m17 3h0m758-5h0m22 2h0m11-1h0m31-1h0m336 1h0m1 4h0m12 0h0m15-5h0m5 2h0m7 0h0m28 0h0m4-1h0m10-1h0m6 0h0m8 6h0m20-3h0m3-2h0m27 3h0m0 0h0m-1365 10h0m7-6h0m30 6h0m10-4h0m0 5h0m4-7h0m2 1h0m4 3h0m11 2h0m852 0h0m282-2h0m5-4h0m10 3h0m2-2h0m5 3h0m1-2h0m4 3h0m17-4h0m31 2h0m1 1h0m3-2h0m3 4h0m21-5h0m7 2h0m2 2h0m1-2h0m15 1h0m1-2h0m17 1h0m2 3h0m12-4h0m-1362 11h0m12-2h0m14 1h0m4 3h0m14-6h0m2 5h0m54-6h0m753 3h0m35 3h0m306-1h0m8-5h0m6 2h0m31 1h0m1-2h0m0 5h0m8 0h0m15 1h0m1-7h0m6 5h0m7 2h0m13-3h0m6 3h0m8-1h0m49-6h0m-1352 15h0m5-1h0m2-1h0m2 2h0m2-6h0m2 3h0m16-2h0m3 0h0m864 1h0m18 2h0m286 1h0m1-2h0m2-1h0m2-1h0m15 3h0m30-4h0m0 5h0m6-5h0m4 2h0m2-1h0m1 5h0m16-7h0m19 4h0m17-2h0m8 2h0m12-4h0m11 7h0m14-5h0m-1338 11h0m10 1h0m31-3h0m798-3h0m52 6h0m8-2h0m299 1h0m1-2h0m12-2h0m33-1h0m20 3h0m1-2h0m3 3h0m0 1h0m21 0h0m10 0h0m0-5h0m6 4h0m23 1h0m13 2h0m-1330 4h0m864 0h0m29 4h0m13 0h0m245-1h0m13-3h0m6 3h0m1-1h0m13 2h0m46-4h0m2 3h0m7 0h0m1-1h0m50-1h0m0-3h0m0 0h0m13 6h0m2-7h0m12 7h0m-1351 7h0m1-3h0m19 1h0m7 1h0m2-1h0m22 3h0m15-3h0m843 1h0m309-1h0m5-2h0m3 1h0m10 0h0m26-2h0m4 1h0m8 4h0m9-4h0m20 4h0m4-5h0m7 4h0m13-3h0m28 2h0m2 1h0m-1339 6h0m8 0h0m5 4h0m908-1h0m6-1h0m13-4h0m224 6h0m149-5h0m6 5h0m5-6h0m3-1h0m-1326 14h0m2-2h0m2-2h0m3 0h0m3 0h0m3 2h0m16-3h0m10 2h0m21 4h0m7-2h0m2-2h0m849-2h0m129 6h0m5 0h0m-1023 1h0m30 6h0m2-1h0m4 1h0m7 0h0m2-5h0m847 3h0m7 3h0m11-5h0m49 5h0m3-2h0m6 1h0m5-1h0m9-1h0m3-1h0m4 0h0m1 4h0m5-2h0m8 1h0m6-4h0m29 5h0m-1086 8h0m8-7h0m72 6h0m14-1h0m828-3h0m22-1h0m57 5h0m2-2h0m24 0h0m2 1h0m2 2h0m19-3h0m28-2h0m2-2h0m-1064 10h0m4 3h0m15 0h0m41 0h0m8-5h0m844 6h0m61-2h0m1-2h0m6 2h0m3 2h0m15 0h0m3-4h0m5 2h0m5-3h0m41 4h0m5-2h0m11 4h0m56-2h0m-1144 10h0m11-3h0m2 3h0m21 0h0m42 0h0m5-3h0m15-3h0m852 6h0m34 0h0m17-2h0m26-1h0m5-3h0m2 2h0m12-3h0m10 6h0m1 0h0m20 0h0m9-1h0m-1066 5h0m20-2h0m6 5h0m913-2h0m27-2h0m2 5h0m3-5h0m18 2h0m21-1h0m1-2h0m20 5h0m27-5h0m52 2h0m24-2h0m-1136 12h0m2-3h0m20 5h0m5 0h0m3 1h0m2 0h0m17 0h0m855-2h0m7 2h0m63-6h0m2 5h0m27-5h0m9 4h0m3-1h0m5-4h0m1 0h0m11 0h0m18 6h0m18-1h0m1-2h0m2-2h0m-1074 7h0m14 2h0m5 5h0m1-7h0m43 0h0m876 1h0m10 3h0m21 1h0m16-5h0m25 2h0m3-1h0m6 1h0m13 1h0m22 1h0m0-2h0m23-2h0m1 3h0m4 1h0m1 3h0m-1083 5h0m4 3h0m3-2h0m3 0h0m8-2h0m1-2h0m4 3h0m3 0h0m6 2h0m8-1h0m855-4h0m11 1h0m3 4h0m59 1h0m15-5h0m16 3h0m2-3h0m2 1h0m1 2h0m10-4h0m2-1h0m11 0h0m13 0h0m13 6h0m6-6h0m6 4h0m8 0h0m2 3h0m-1061 6h0m4 1h0m1-3h0m12 2h0m1-2h0m10 1h0m833 3h0m50-3h0m44 0h0m4 3h0m12-5h0m6 2h0m19 0h0m7 1h0m5 0h0m5-3h0m4 0h0m24 5h0m22-4h0m1 0h0m4 2h0m54-3h0m-286 12h0m13 0h0m38-2h0m3 1h0m6-4h0m4 3h0m1-1h0m2 3h0m34-6h0m36 0h0m7 0h0m10 3h0m16 2h0m2-5h0m4 2h0m2 1h0m20 1h0m32 1h0m10 1h0m11 0h0m-1081 3h0m14-1h0m17 6h0m801-5h0m33 2h0m49-3h0m6 7h0m18-4h0m6 0h0m35-3h0m16 7h0m1-1h0m23-2h0m17 1h0m14-5h0m3 6h0m1-5h0m10 4h0m17-5h0m7 4h0m0-3h0m5 0h0m33 5h0m-278 9h0m0 0h0m1-4h0m37 0h0m19 0h0m10-1h0m15 2h0m3-3h0m15 2h0m14-2h0m7-1h0m5 6h0m3-5h0m13 5h0m7-4h0m5 3h0m13-4h0m6 0h0m7 1h0m5 0h0m36 1h0m18-1h0m-271 12h0m1 0h0m14-4h0m3-2h0m54 1h0m2 3h0m7 2h0m11-4h0m55 2h0m11-1h0m29 1h0m2 0h0m18-2h0m3 3h0m43 0h0m11-4h0m6 6h0m-287 4h0m3 4h0m4-3h0m21-2h0m4 5h0m4-6h0m1 0h0m4 5h0m0-3h0m4 0h0m19 0h0m39-1h0m22 4h0m28-6h0m0 7h0m1-2h0m8-5h0m8 0h0m0 3h0m1-2h0m8 5h0m11-5h0m5 2h0m16-3h0m32 5h0m1 1h0m3-6h0m16 2h0m43 4h0m-302 8h0m9-6h0m24 2h0m38 1h0m18 1h0m60-3h0m6-1h0m16 7h0m11-1h0m0-5h0m0 0h0m14 4h0m14 1h0m10-6h0m3 6h0m9 0h0m3-3h0m1 2h0m5 0h0m1 1h0m14-6h0m1 5h0m22-1h0m14-4h0m6 6h0m3-4h0m1 3h0m2-1h0m-690 11h0m377-3h0m5 1h0m8-2h0m22-3h0m8 1h0m21 4h0m15 0h0m16 0h0m1-5h0m35 6h0m3-5h0m2 0h0m15 5h0m9-5h0m3 5h0m1-3h0m3-3h0m5 2h0m20 3h0m23-4h0m7 6h0m4 0h0m29-5h0m1 5h0m1 0h0m10 0h0m10-6h0m11 3h0m1 1h0m4 1h0m2-1h0m7 0h0m5 1h0m5-2h0m0 3h0m2-7h0m-700 14h0m11 0h0m342 0h0m5-6h0m1 3h0m28 3h0m2-2h0m10-1h0m6-1h0m2 0h0m28 3h0m6-3h0m10-1h0m1 6h0m34-6h0m9 2h0m14 2h0m10-4h0m3 4h0m7 2h0m22-7h0m28 5h0m4-2h0m41 0h0m1-1h0m14 1h0m27 4h0m17-1h0m0 0h0m2 0h0m0 1h0m6-4h0m9 2h0m-712 6h0m316-1h0m21 5h0m16-7h0m0 7h0m18-2h0m0 0h0m27-2h0m15 0h0m9 1h0m3 2h0m47 1h0m12 0h0m35-6h0m22 1h0m4 4h0m6 0h0m14-6h0m0 0h0m4 3h0m16 1h0m23-3h0m3 2h0m4-2h0m4 4h0m14 2h0m0-5h0m12 0h0m32 5h0m12 0h0m35-3h0m-725 10h0m7-1h0m2-2h0m5-2h0m3 1h0m301-1h0m21 5h0m2-1h0m1-3h0m29 3h0m34 2h0m5-2h0m3-5h0m3 0h0m8 6h0m9-4h0m3 3h0m7 1h0m17-6h0m8 1h0m12 6h0m2-4h0m33-1h0m8-1h0m33 4h0m12-2h0m18 0h0m19 1h0m1 0h0m8-4h0m5 2h0m2 3h0m2-4h0m4 6h0m13-1h0m19-3h0m2-3h0m1 2h0m22 0h0m22-1h0m-702 12h0m308-5h0m0 0h0m47 0h0m57 7h0m28-5h0m24-1h0m24 2h0m5 2h0m7-2h0m15-3h0m19 1h0m18 1h0m12-2h0m11 6h0m8-4h0m1-2h0m0 7h0m18-1h0m21-5h0m27 5h0m15-6h0m12 2h0m31 5h0m-742 6h0m18-1h0m316 1h0m7-5h0m13 7h0m25-6h0m2 5h0m7-1h0m7-3h0m1-1h0m39 6h0m3-4h0m29-1h0m15 2h0m4-4h0m8 2h0m16-2h0m31 6h0m7-6h0m56 2h0m3-2h0m1 6h0m1-6h0m13 3h0m3-2h0m8 3h0m3-2h0m5 4h0m8-4h0m10 1h0m14-2h0m6 0h0m16 6h0m3 0h0m3-7h0m3 5h0m19 2h0m14-5h0m-750 12h0m9-6h0m19 6h0m7 1h0m11-7h0m1 1h0m295 6h0m7-2h0m6-5h0m1 6h0m14-1h0m7 2h0m0-6h0m2 2h0m2-3h0m31 6h0m5-4h0m2 3h0m1 1h0m0-2h0m6 3h0m5 0h0m7-5h0m3 4h0m26 1h0m5-4h0m4 3h0m17-3h0m16 4h0m19-3h0m30-1h0m3 1h0m24 2h0m17-4h0m0 0h0m1 3h0m4-1h0m12-1h0m17 1h0m10-1h0m1-1h0m11 2h0m44-3h0m9 6h0m4-4h0m26 2h0m2-3h0m5 1h0m0 0h0m5-2h0m-777 10h0m22 2h0m18-4h0m12-1h0m13 4h0m317 2h0m23-2h0m21-1h0m3 0h0m15-2h0m16 2h0m2 3h0m13-5h0m3 1h0m31-1h0m23 1h0m16-2h0m42 5h0m0-1h0m9-3h0m30 5h0m1 1h0m13-1h0m5 1h0m2-4h0m9-1h0m22-1h0m21-1h0m3 4h0m20-1h0m4-2h0m8-1h0m0 1h0m10 4h0m1 0h0m-768 7h0m78-2h0m316 4h0m13 1h0m17-3h0m21-2h0m16-2h0m21 3h0m12 4h0m16-2h0m22 1h0m36 0h0m8-3h0m11 3h0m27-1h0m3-1h0m5-1h0m12 1h0m6-1h0m26 0h0m11-3h0m3 7h0m3-5h0m13 5h0m12-5h0m9 2h0m17-4h0m3 2h0m2 4h0m8-2h0m17-4h0m14 1h0m-788 12h0m82 1h0m331-4h0m6 5h0m13-7h0m23 6h0m2-2h0m3 1h0m11-3h0m18-1h0m4 1h0m0-1h0m16 4h0m13-4h0m47 4h0m0 1h0m4-3h0m15 1h0m2 2h0m2-1h0m2-5h0m11 6h0m65-5h0m4 2h0m11 4h0m1-7h0m0 6h0m4-5h0m14 4h0m5-1h0m7-3h0m3 0h0m-789 14h0m99-4h0m43 0h0m15-3h0m326 2h0m2-2h0m20 3h0m15 4h0m13-3h0m25-2h0m19-2h0m3 4h0m11 3h0m1-4h0m17 1h0m7 0h0m15-2h0m6 2h0m22 0h0m19-4h0m17 0h0m26 0h0m26 5h0m3-2h0m1 2h0m16-1h0m13 1h0m11-1h0m5-3h0m18 4h0m12-4h0m10-1h0m-803 15h0m48-5h0m35-1h0m14 3h0m364-2h0m6 3h0m2-2h0m9-1h0m2 0h0m1 5h0m7-3h0m4 2h0m14-2h0m12-2h0m26 5h0m4 0h0m12-5h0m18-2h0m8 6h0m7 0h0m5-4h0m20 0h0m6 4h0m134-3h0m6-1h0m7 1h0m-800 5h0m51 4h0m18 0h0m5 0h0m18 2h0m28 1h0m3 0h0m4-2h0m29 1h0m363 0h0m22-4h0m4 2h0m1-1h0m0 1h0m1-2h0m0 3h0m3-3h0m196-1h0m7 0h0m6 5h0m12-1h0m0 1h0m18-5h0m-800 9h0m15 2h0m4 1h0m44-3h0m9-2h0m81 3h0m12 2h0m395-3h0m-507 13h0m29-3h0m18-1h0m18-2h0m25 5h0m-126 2h0m60 0h0m60 0h0m17 1h0m-23 7h0m31 6h0m-86 23h0m-2 6h0m-2 41h0m-20 7h0m12 5h0m13 7h0m8 8h0m6-3h0m-27 5h0m4 1h0m-12 6h0m13 2h0m19-2h0m305 21h0m8-5h0m2 8h0m7 7h0m-27 28h0m-13 50h0m-28 3h0m0 17h0m24 3h0m6 20h0m3 0h0m-4 8h0"/><path stroke="#c0acde" d="M923 280h0m134 452h0m-195 5h0m212 100h0m8 8h0m-5 14h0m33 0h0m326 254h0m-164 14h0m4 29h0m-590 29h0m-4 32h0m315 130h0"/><path stroke="#baa3e1" d="M939 290h0m24 8h0m-483 365h0m699 0h0m-9 31h0m-312 51h0m175 45h0m42 50h0m-695 215h0m990 112h0m-691 10h0m60-1h0m-76 17h0m308 128h0m21 29h0"/><path stroke="#b499e3" d="M976 237h0m-7 61h0m499 128h0m-475 262h0m-597 109h0m65 22h0m591 18h0m-9 8h0m66-1h0m86 66h0m91 39h0m-522 157h0m-48 37h0m-34 2h0m705 2h0m-181 8h0m-612 6h0m56 11h0m58-1h0m-112 5h0m55 7h0m-38 6h0m55 0h0m61 9h0m-102 6h0m120 4h0m-102 18h0m326 104h0m5 13h0m-9 143h0"/><path stroke="#ae8fe6" d="M907 240h0m49 21h0m-7 3h0m-30 17h0m5 2h0m35 0h0m4 22h0m181 328h0m-253 42h0m276 12h0m-131 7h0m127 3h0m-309 53h0m121 25h0m40 64h0m28-4h0m50 12h0m78 18h0m-155 13h0m194 15h0m486 20h0m-475 28h0m-868 8h0m939 4h0m130 131h0m-653 10h0m-33 55h0m-138 17h0m127 1h0m-83 6h0m43 0h0m-22 4h0m63 3h0m-139 11h0m18-4h0m150 1h0m-138 10h0m42 121h0"/><path stroke="#a886e8" d="M966 241h0m-56 7h0m77 5h0m11-5h0m43 9h0m-134 11h0m32-1h0m29 29h0m415 201h0m-249 158h0m5-2h0m-142 5h0m14 4h0m24 3h0m88 73h0m-155 22h0m38 123h0m180 22h0m498 0h0m-45 24h0m-111 12h0m-90 67h0m-8 34h0m-658 62h0m-37 27h0m-66 16h0m-27 12h0m7 3h0m579-1h0m-595 13h0m39-5h0m65-1h0m-128 12h0m18-2h0m-24 10h0m42 6h0m333 116h0m0 30h0"/><path stroke="#a17ceb" d="M908 227h0m3 33h0m27 4h0m22 18h0m14 2h0m-11 26h0m563 128h0m-103 42h0m-424 205h0m-650 147h0m676 2h0m105 42h0m543 0h0m-28 44h0m-388 22h0m402 1h0m-339 51h0m90 5h0m-39 17h0m-211 62h0m-18 7h0m280 30h0m-729 36h0m-70 7h0m609-1h0m-604 9h0m691-5h0m-684 19h0m87 19h0m-98 2h0m137 7h0m-123 32h0m338 57h0m-2 28h0m1 25h0"/><path stroke="#9972ed" d="M951 231h0m70 20h0m-76 31h0m-6 11h0m445 107h0m90 18h0m35 11h0m-148 4h0m100 26h0m-578 268h0m90 47h0m8 12h0m45 34h0m634 5h0m-10 26h0m-106 79h0m67 10h0m-263 39h0m51 7h0m-72 94h0m-240 11h0m-6 7h0m194 20h0m73 1h0m-586 3h0m607 20h0m-677 4h0m668 2h0m-33 11h0m-115 1h0m-572 14h0m37 1h0m16-1h0m27-6h0m-66 10h0m-72 10h0m150 6h0m-49 21h0m-27 88h0m-10 15h0m10-4h0m1 10h0"/><path stroke="#9168ef" d="M906 233h0m-11 13h0m23 51h0m475 116h0m-19 4h0m95 8h0m-90 51h0m0 1h0m-366 361h0m64 16h0m611 17h0m-685 24h0m210-4h0m364 2h0m119 14h0m-20 33h0m-275 89h0m-146 38h0m-120 34h0m214 33h0m-721 39h0m97-1h0m7 2h0m504 1h0m-616 6h0m12 18h0m12-5h0m2 48h0m-2 19h0m5 33h0m9 5h0m2 9h0m-8 5h0"/><path stroke="#895ff1" d="M964 244h0m547 185h0m-369 240h0m27 17h0m9 10h0m-164 137h0m74 29h0m559 4h0m-376 77h0m80 43h0m-34 101h0m111 32h0m-689 35h0m-141 28h0m69 12h0m2 92h0m-10 10h0m8 0h0"/><path stroke="#7f55f3" d="M980 275h0m-56 12h0m612 154h0m-37 18h0m-74 9h0m-247 208h0m83 255h0m437 0h0m-514 142h0m219 16h0m-663 37h0m-135 37h0m43-3h0m52 34h0m-43 94h0m20 20h0m-2 4h0"/><path stroke="#754af5" d="M947 280h0m464 139h0m-249 269h0m522 155h0m-393 212h0m77-4h0m-631 114h0m-26 12h0m-60 131h0m-8 5h0m35 2h0"/><path stroke="#6940f7" d="M1597 843h0m41 82h0m-842 153h0m-55 55h0m538 39h0m-673 34h0m61 79h0m-3 18h0"/><path stroke="#5b34f9" d="M1437 428h0m-34 69h0m-259 178h0m-476 620h0m8 28h0"/><path stroke="#4b28fb" d="M666 1322h0"/><path stroke="#d3d3d3" d="M956 229h0m-56 6h0m2-2h0m17 2h0m13-1h0m7 3h0m32 0h0m9-2h0m-94 11h0m6-3h0m88-1h0m11 4h0m-107 4h0m15 3h0m13 1h0m13-4h0m13 4h0m13 0h0m61-4h0m29 5h0m-125 1h0m11 7h0m1-3h0m14-2h0m20 2h0m16-1h0m20-2h0m5 0h0m6 0h0m1 4h0m20 1h0m7 0h0m-138 3h0m91 2h0m3-3h0m26 6h0m-132 5h0m23-3h0m43 7h0m19-2h0m-77 10h0m26 0h0m37-3h0m18-4h0m3 5h0m-63 4h0m7 1h0m29 3h0m6-4h0m3 4h0m-10 21h0m445 84h0m1-2h0m-20 9h0m22-3h0m-29 6h0m5 5h0m10-5h0m6 4h0m11-1h0m1 2h0m8-1h0m3-1h0m1 4h0m73-3h0m4 3h0m-117 1h0m5 0h0m4 6h0m6-1h0m7-5h0m20 4h0m50 3h0m2 0h0m33-2h0m6 0h0m-145 10h0m6-4h0m19-3h0m2 2h0m14 1h0m33 3h0m34-3h0m1 3h0m5 1h0m10-2h0m14-2h0m5 2h0m0-5h0m8 6h0m1 1h0m-128 6h0m8 1h0m4-3h0m2 3h0m2-4h0m9 0h0m0 1h0m1 4h0m6-6h0m8 6h0m5-3h0m0-1h0m4 4h0m51-7h0m9 0h0m9 0h0m11 7h0m4-1h0m1 0h0m2 0h0m1 0h0m6-1h0m-170 10h0m19-7h0m22 5h0m24-3h0m11 5h0m2-2h0m28-3h0m6 2h0m6-2h0m7-1h0m23 0h0m-168 11h0m1 0h0m16-4h0m0 1h0m2 4h0m1-4h0m8-1h0m1 2h0m4 1h0m0-2h0m0 3h0m0 3h0m4-2h0m2-2h0m11 1h0m14 2h0m12-3h0m3-3h0m50 3h0m1 2h0m19-5h0m16 4h0m29-1h0m0 2h0m0 0h0m4-1h0m-213 8h0m25-1h0m10 4h0m18-2h0m2-1h0m12-4h0m10 2h0m24 2h0m6 3h0m46-7h0m19 2h0m4-1h0m2 1h0m-185 12h0m6 1h0m1-6h0m25 2h0m4-2h0m6-1h0m4 0h0m3 0h0m13 0h0m5 7h0m20 0h0m9-4h0m23-3h0m3 6h0m1-2h0m23 0h0m1 1h0m51-5h0m-184 15h0m22-1h0m14-3h0m7-1h0m4 0h0m2-1h0m10 2h0m9 3h0m5-4h0m0 0h0m8 2h0m1-2h0m10 3h0m12-4h0m21 2h0m10 2h0m7-1h0m10-3h0m2 3h0m2-2h0m4 0h0m-174 8h0m18-2h0m3 3h0m1-3h0m42 5h0m33-1h0m15 2h0m44-6h0m-138 10h0m4 4h0m7-1h0m6-4h0m11 0h0m9 6h0m8-3h0m1 0h0m-41 7h0m2 1h0m24-1h0m7 3h0m20-1h0m14 1h0m-617 64h0m-5 9h0m21 16h0m2-3h0m3 8h0m1 2h0m13 13h0m5-3h0m1 4h0m1-2h0m4 2h0m-5 6h0m4-2h0m-18 10h0m18-2h0m24 10h0m-398 13h0m395-3h0m-404 10h0m15-5h0m3 3h0m13 1h0m13-2h0m522 4h0m32-1h0m-594 3h0m5-1h0m1 1h0m0 3h0m19-2h0m9 0h0m4 4h0m16-1h0m365-5h0m7 5h0m109-1h0m24-1h0m1-3h0m16 3h0m7 1h0m10-2h0m28 0h0m-636 10h0m4 2h0m10 1h0m15-2h0m3-1h0m2-2h0m23 1h0m507 3h0m8-1h0m47-2h0m67 0h0m11-2h0m-702 14h0m2-7h0m5 1h0m7 1h0m10 3h0m1 1h0m2-4h0m0 3h0m17 0h0m4 2h0m27-3h0m475 2h0m47-2h0m91-4h0m20 5h0m0-3h0m13 1h0m-717 9h0m9 3h0m6 0h0m6-2h0m5-1h0m24-1h0m0 3h0m19-3h0m2-2h0m479 6h0m7-2h0m4-1h0m15-2h0m4 4h0m96-4h0m19 0h0m16 0h0m32 3h0m4-3h0m-773 13h0m0 0h0m10-7h0m19 7h0m30-5h0m3-2h0m0 6h0m11 0h0m17 1h0m2-4h0m532-3h0m107 2h0m9 1h0m3 1h0m118-1h0m-859 8h0m1-3h0m18 6h0m2-1h0m36-2h0m5 0h0m10 3h0m6-1h0m12-2h0m608 1h0m16-1h0m31 0h0m-737 11h0m13-5h0m2 0h0m2 4h0m6-3h0m1 1h0m21 1h0m30-3h0m12-1h0m589 7h0m87-7h0m18 2h0m-793 11h0m10 0h0m5 1h0m14 1h0m0-2h0m10-5h0m2 6h0m35-5h0m1 3h0m5-4h0m3 0h0m437 5h0m-525 4h0m8-1h0m4 2h0m50 2h0m2 1h0m9 1h0m6-2h0m12-3h0m462 4h0m232-2h0m25-1h0m-829 9h0m1 1h0m10-3h0m12 1h0m11 5h0m30-5h0m13 5h0m25-7h0m383 3h0m194-1h0m22 5h0m114-5h0m3 5h0m1-6h0m7 4h0m-825 8h0m5 0h0m3 0h0m23-1h0m26 2h0m8-3h0m13-2h0m19 2h0m372-3h0m97 7h0m90-4h0m-666 7h0m1 2h0m15-1h0m8 4h0m12 0h0m9-3h0m5-3h0m10-1h0m2 4h0m15 2h0m11-6h0m9 6h0m1-3h0m6 3h0m12-4h0m352 3h0m14-5h0m194 4h0m14 0h0m-681 6h0m13 0h0m18 2h0m2-1h0m3 1h0m3 0h0m7 1h0m10 0h0m0-2h0m3-2h0m2 1h0m9 1h0m2-3h0m20 4h0m-77 6h0m13 2h0m13-2h0m21 5h0m4-1h0m2-1h0m2-1h0m719-4h0m-798 10h0m1 1h0m14 3h0m4-6h0m20 6h0m13-2h0m1-3h0m5-1h0m15 7h0m0 0h0m2-6h0m11 1h0m5-1h0m500 6h0m-615 3h0m7 2h0m8-3h0m2 1h0m10 0h0m28 1h0m1 2h0m1 1h0m16 1h0m1-2h0m16-4h0m532 5h0m61-1h0m25-1h0m-699 8h0m9 3h0m1 0h0m1-2h0m29-5h0m8 7h0m5-5h0m21 5h0m2-1h0m1 1h0m2-3h0m3 0h0m-95 11h0m3-2h0m4-1h0m8-3h0m7 6h0m4 0h0m8-6h0m17 0h0m23-1h0m5 0h0m18 4h0m8-2h0m-112 12h0m25-5h0m7 3h0m2 1h0m8-2h0m23 0h0m5-1h0m13 5h0m4-1h0m10-1h0m6-2h0m1152 3h0m-1250 3h0m13-1h0m2 1h0m15 2h0m3 1h0m13 0h0m9 0h0m1 1h0m3-1h0m16-3h0m0 4h0m22-4h0m6 4h0m1145-1h0m-1252 7h0m2-3h0m2 4h0m1 1h0m3-3h0m10-1h0m3 1h0m3 3h0m27-2h0m45-2h0m0 6h0m2-4h0m544 0h0m4-3h0m26 7h0m592-5h0m101 5h0m-1366 7h0m15-5h0m32 6h0m12-2h0m17 1h0m0-6h0m10 0h0m13 1h0m17 1h0m546 0h0m5 4h0m3-4h0m13-2h0m572 3h0m2-2h0m51 4h0m14-2h0m11-3h0m10 7h0m15-5h0m-1337 10h0m1-3h0m3 5h0m27-4h0m24 0h0m1 3h0m4 1h0m4 0h0m15-5h0m4 5h0m545 1h0m5-2h0m2 0h0m20 0h0m44 2h0m15-1h0m530-5h0m2 4h0m19 0h0m8-2h0m4 1h0m2-4h0m44 7h0m19-4h0m6 0h0m8 4h0m1-7h0m-1375 8h0m8 3h0m4-3h0m7 5h0m6-5h0m28 1h0m2 2h0m4 3h0m1-4h0m13 4h0m1-4h0m7 3h0m5-4h0m6 2h0m595-2h0m7 1h0m43-1h0m3 0h0m25 6h0m475-7h0m5 2h0m11-2h0m6 3h0m8 2h0m3-5h0m1 1h0m2 1h0m43 4h0m5-3h0m11 1h0m10 2h0m-1343 7h0m1-4h0m0 4h0m25-3h0m1-1h0m4 5h0m0-5h0m9 2h0m23 3h0m6-1h0m2 0h0m1 0h0m7-4h0m616 1h0m44 0h0m469 3h0m27-2h0m1-3h0m9 1h0m0 6h0m5-4h0m64-1h0m1-1h0m24-1h0m5 4h0m2-2h0m14 3h0m14-4h0m12 3h0m10-2h0m-1403 8h0m6-1h0m8 3h0m26 1h0m6-5h0m5 7h0m9-3h0m4-3h0m5 1h0m598-2h0m11 2h0m50 5h0m18-1h0m25-4h0m14 0h0m430 2h0m1-3h0m17 0h0m6 6h0m12-7h0m5 3h0m14 0h0m9 0h0m0 2h0m35-4h0m8 4h0m5-5h0m14 5h0m40-5h0m0 0h0m9 6h0m12-3h0m1 0h0m-1404 10h0m4 2h0m3-6h0m3 5h0m3-2h0m19-3h0m8 4h0m635-2h0m76 0h0m1-3h0m64 0h0m19 3h0m33-1h0m370 4h0m12-3h0m7 4h0m18-5h0m14 3h0m41-2h0m12 0h0m4-3h0m28 5h0m-1381 10h0m7-1h0m8-4h0m20 1h0m27 2h0m5 1h0m601-1h0m119-1h0m14-4h0m30 0h0m35 7h0m33-4h0m282-1h0m41-1h0m22 6h0m1-2h0m14-3h0m5 4h0m58-3h0m9-1h0m31 3h0m13-3h0m-1380 8h0m3 0h0m14 5h0m0-3h0m2 1h0m11-2h0m12 0h0m15-1h0m2-1h0m654 1h0m173-2h0m4 0h0m327 7h0m12-7h0m7 2h0m11 1h0m13 0h0m18 1h0m56 2h0m7-5h0m10 1h0m19 5h0m-1372 7h0m9 0h0m2 0h0m6 1h0m5-1h0m8-6h0m1 0h0m17 5h0m2-5h0m20 4h0m3-1h0m788 1h0m3 3h0m13-4h0m340-2h0m0 6h0m18-3h0m0-2h0m18-2h0m1 4h0m0-1h0m5 0h0m1 3h0m1-5h0m3 4h0m11-4h0m55 5h0m15-4h0m11 5h0m13-1h0m7-2h0m-1375 4h0m8 0h0m2 1h0m0-1h0m17 3h0m25 2h0m809 1h0m7-3h0m45 3h0m301 1h0m28-4h0m3-3h0m1 3h0m19-2h0m14 4h0m9 2h0m3-6h0m11 2h0m14-3h0m12 4h0m10-3h0m4 5h0m5-4h0m3-1h0m15 4h0m10-1h0m1 1h0m-1369 9h0m11-2h0m7-3h0m20 4h0m831-4h0m8 0h0m19 1h0m298-1h0m52 5h0m17-3h0m18-1h0m4 2h0m40 3h0m8-5h0m30-2h0m-1371 10h0m2 3h0m5-2h0m28 2h0m851 2h0m3-2h0m13-1h0m8 2h0m306-5h0m21 6h0m2-7h0m18 7h0m23-1h0m5-1h0m17-1h0m36 2h0m4 1h0m31-1h0m3-1h0m-1363 10h0m2-2h0m1 1h0m6 1h0m2 0h0m8-2h0m35-4h0m25-1h0m790 1h0m5 4h0m16-3h0m13-2h0m2 0h0m12 4h0m13 3h0m263-3h0m3-3h0m24 0h0m0 5h0m2-4h0m9 5h0m12-4h0m13-3h0m21 3h0m11-1h0m31 5h0m2-1h0m1-4h0m4 1h0m15 3h0m4-2h0m10 3h0m5-3h0m-1370 9h0m8-3h0m15 1h0m5-3h0m66 0h0m786 6h0m51-4h0m17 5h0m17-3h0m257-2h0m38 0h0m4 3h0m2-3h0m15 5h0m16-5h0m6 2h0m56 3h0m-1351 3h0m4 4h0m1-1h0m3-3h0m8 1h0m3-3h0m5 5h0m52-1h0m880-3h0m256 5h0m14-2h0m23 0h0m21-2h0m14 0h0m9 1h0m9 0h0m3 2h0m-1290 3h0m8 5h0m854 2h0m71-7h0m10 2h0m1 5h0m381-5h0m-1329 8h0m6 2h0m2-3h0m1 3h0m28 2h0m35 1h0m-79 3h0m5 0h0m6 2h0m14-2h0m918 4h0m57-1h0m21 0h0m19-1h0m-1051 6h0m8-1h0m2 4h0m12-1h0m4 1h0m2-4h0m8 0h0m0 4h0m904 0h0m61-2h0m7-2h0m6 3h0m23-2h0m7-2h0m18 6h0m2 1h0m9-4h0m54 0h0m38 4h0m-1158 8h0m2-6h0m23-1h0m927 6h0m23 1h0m37-2h0m15-1h0m7-1h0m10 0h0m25 0h0m0-3h0m9 4h0m73 3h0m-1155 3h0m7 4h0m7-2h0m0-1h0m12-1h0m975 5h0m6-2h0m9-3h0m10 4h0m2-3h0m6 3h0m23-4h0m5 0h0m6-2h0m5 5h0m4-3h0m16 4h0m55-6h0m11 1h0m-1150 12h0m3-3h0m11 5h0m7-1h0m11 1h0m7 0h0m828-7h0m88 4h0m1 0h0m18-1h0m15 2h0m15 1h0m57-2h0m2-3h0m0 5h0m64-4h0m12 5h0m-1145 8h0m2-6h0m25 2h0m844-2h0m53 5h0m3-1h0m0-1h0m31-4h0m20 2h0m0 3h0m1-4h0m12 0h0m31 5h0m3-4h0m7-2h0m4 3h0m22 3h0m11-6h0m11 4h0m6 2h0m-1075 2h0m0 0h0m10 6h0m20-6h0m2 3h0m37-1h0m814 1h0m25-3h0m8 5h0m22-2h0m11 3h0m10 0h0m25-2h0m4 2h0m10 1h0m12-5h0m23 0h0m9-2h0m6 5h0m19 0h0m9-3h0m-1078 6h0m9 4h0m12-1h0m10 1h0m0-2h0m847 2h0m22-4h0m35 7h0m28-5h0m17 4h0m4-4h0m36-1h0m7 5h0m4-1h0m44-3h0m-1073 7h0m9 4h0m6-3h0m10 4h0m1-6h0m873 3h0m30 0h0m10-1h0m22 2h0m14-1h0m3 0h0m10-1h0m20 1h0m5 4h0m11 0h0m19-6h0m3 6h0m8-5h0m10 1h0m2 1h0m16 3h0m18-1h0m-1066 5h0m2 1h0m5 0h0m3 0h0m918-4h0m1 5h0m2-4h0m0 3h0m5-1h0m13-1h0m22 4h0m2-3h0m5-1h0m3 2h0m36 2h0m24 0h0m22-3h0m-1070 7h0m3-2h0m3 7h0m2-2h0m806 2h0m13-3h0m9 2h0m12-6h0m16 4h0m24-4h0m11 3h0m4-3h0m35 3h0m12 0h0m11-1h0m3-2h0m14 7h0m1-5h0m3 1h0m54-1h0m2 2h0m23-4h0m7 7h0m7-3h0m21-4h0m-269 14h0m1 1h0m65-5h0m13 0h0m7 3h0m1 2h0m37-4h0m6 2h0m1-4h0m28-1h0m3 3h0m1 0h0m22-3h0m18 5h0m18-5h0m4 4h0m6-1h0m8-3h0m19 7h0m-262 1h0m4 5h0m6-2h0m25-3h0m11 7h0m23-1h0m5-5h0m11 5h0m4 1h0m3-6h0m23 5h0m6-4h0m1 0h0m32 2h0m17 2h0m31 0h0m20 1h0m5-5h0m18 4h0m1 0h0m0-5h0m3 2h0m3 4h0m1-7h0m13 7h0m-302 6h0m9-3h0m4 4h0m2-2h0m1 3h0m10-4h0m1 0h0m0 4h0m52-1h0m67-3h0m21 0h0m7-3h0m5 0h0m13 5h0m15 2h0m9 0h0m59-7h0m8 2h0m1-1h0m5 3h0m1 3h0m6-4h0m-300 9h0m3-4h0m4 7h0m18-2h0m1 0h0m12-4h0m1 0h0m83 5h0m3-5h0m5 5h0m3-6h0m15 3h0m26-1h0m1 0h0m18 0h0m26 1h0m0-2h0m11 1h0m7 3h0m1 1h0m2-5h0m26 6h0m8-1h0m2 0h0m2 0h0m3-2h0m18 2h0m-331 8h0m19-3h0m19 0h0m21-1h0m6 1h0m1 0h0m1-3h0m16 0h0m52 1h0m5 5h0m8 1h0m41-7h0m9 3h0m21 1h0m26-4h0m7 5h0m3 0h0m6-4h0m6 0h0m6 4h0m12-4h0m23 6h0m10-3h0m21 0h0m-686 5h0m339-1h0m0 6h0m3-2h0m23 0h0m4-4h0m22 2h0m1-2h0m6 4h0m13 2h0m1 0h0m5-3h0m4 0h0m24 3h0m15 1h0m1 0h0m3-4h0m1-2h0m47 6h0m21-5h0m8 0h0m1-2h0m1 6h0m5-2h0m2 0h0m5-2h0m37 0h0m7 1h0m2 3h0m19-5h0m5 5h0m1-3h0m11 0h0m28 3h0m5-6h0m10 6h0m14-3h0m-698 12h0m303-4h0m23 4h0m20-3h0m23 1h0m22-2h0m10-2h0m3 5h0m34-5h0m3 5h0m24-2h0m12-1h0m28 2h0m26-5h0m12 7h0m5-6h0m4 2h0m14 0h0m3-1h0m26-2h0m8 7h0m8-4h0m4 2h0m15-1h0m8 2h0m2-1h0m24-4h0m29 1h0m-708 11h0m13-2h0m3-2h0m348 5h0m34-5h0m14 0h0m9 3h0m11 2h0m41 1h0m32-6h0m2 2h0m6-2h0m19 6h0m7-4h0m43-2h0m11 0h0m3 4h0m9 0h0m18-5h0m4 4h0m2-1h0m11 0h0m15 0h0m4-1h0m3 4h0m2 0h0m1 1h0m13-2h0m9 2h0m3-2h0m3-3h0m19 1h0m-399 9h0m3 3h0m3-7h0m1 3h0m43 1h0m28 2h0m1-6h0m29 7h0m14-2h0m8-1h0m0-1h0m6 4h0m1-7h0m13 2h0m14 2h0m20 1h0m11-4h0m19 3h0m24-3h0m22 4h0m20-3h0m14 4h0m13-1h0m5 0h0m1 1h0m20 1h0m1-1h0m5-4h0m1 3h0m7-5h0m1 4h0m8-3h0m16-1h0m15 0h0m6 4h0m-729 8h0m16-3h0m4 4h0m308-2h0m18 0h0m17-3h0m13 7h0m6-1h0m47-1h0m72-2h0m25-2h0m13 2h0m0 3h0m53-2h0m12 2h0m14-5h0m3 5h0m1-4h0m50 0h0m6-1h0m12 4h0m8-4h0m23 1h0m7 4h0m1-2h0m-710 11h0m307 0h0m14-4h0m7 3h0m5 0h0m3-1h0m19 2h0m9-5h0m6 5h0m3-6h0m43 3h0m18 0h0m3 0h0m26 2h0m7-3h0m9-1h0m17 4h0m1-4h0m25 1h0m0 2h0m2 2h0m15-2h0m13-1h0m9 2h0m32-5h0m23 1h0m24 2h0m17-1h0m2-1h0m2-1h0m3 0h0m0 6h0m14-3h0m2-3h0m0-1h0m12 2h0m3 1h0m14-3h0m-778 14h0m7-3h0m20 3h0m18 1h0m21-2h0m330-2h0m1 3h0m8-4h0m10-2h0m15 6h0m8-4h0m30 3h0m15-4h0m26 4h0m13-5h0m8 1h0m4 5h0m7 1h0m5-7h0m5 5h0m6 1h0m4-4h0m7 5h0m1 0h0m2 0h0m43-4h0m6 3h0m8-2h0m33 0h0m5-4h0m1 6h0m2-1h0m5-3h0m1 2h0m17 0h0m4-3h0m22 5h0m15 0h0m6-4h0m5-1h0m22 6h0m8-5h0m-794 12h0m10-1h0m10-5h0m31 4h0m41-1h0m2-2h0m348 5h0m2-5h0m2 1h0m10 1h0m2-2h0m14 5h0m1 1h0m2-6h0m44 2h0m3 1h0m3 2h0m1-3h0m14-3h0m6 1h0m2-1h0m37 4h0m17-1h0m22 4h0m19-4h0m20-1h0m3 1h0m24-2h0m2-1h0m18 7h0m15-3h0m4-3h0m16 4h0m8-5h0m9 1h0m-791 8h0m25 1h0m29 0h0m24-2h0m7 2h0m364-1h0m4 0h0m1 5h0m7-1h0m11-2h0m11-1h0m26 1h0m18 2h0m6 2h0m6-7h0m16 6h0m11-5h0m17 5h0m12-2h0m21-2h0m79 4h0m6-2h0m2-4h0m2 2h0m21 1h0m0 4h0m3-4h0m30 3h0m3-1h0m19 0h0m4-4h0m3 6h0m16 0h0m-849 4h0m97-1h0m29 5h0m15-1h0m344-2h0m19 1h0m8-1h0m14 1h0m3-3h0m20 5h0m4-7h0m0 5h0m1 1h0m10-3h0m13 4h0m15 0h0m29 0h0m40-3h0m9 1h0m11 0h0m9-2h0m7-2h0m2 1h0m14 5h0m21-7h0m19 1h0m2 6h0m7-3h0m8 2h0m2-1h0m1 0h0m19-3h0m19 5h0m12 0h0m-756 8h0m93-6h0m350 4h0m15-3h0m11 5h0m15-3h0m2 2h0m18-3h0m3 4h0m4-2h0m15 1h0m10-5h0m21 1h0m24 0h0m5 5h0m3-2h0m10-1h0m1-2h0m31-1h0m42 1h0m3-1h0m17 3h0m10 0h0m0-3h0m31 6h0m15-2h0m-804 5h0m2-2h0m48 0h0m452 2h0m22-1h0m7-1h0m8 5h0m2 0h0m19 1h0m7-4h0m3-1h0m6 5h0m10-6h0m63 0h0m1 0h0m103 4h0m1 2h0m16 0h0m17-2h0m12-4h0m-781 11h0m112-3h0m3 4h0m1 3h0m-141 7h0m30-4h0m25 2h0m96 0h0m-6 7h0m3 6h0m-88 23h0m3 15h0m-8 16h0m1 4h0m3 20h0m1-5h0m-13 6h0m2 1h0m21 6h0m-28 13h0m5 2h0m23 1h0m-22 16h0m331-4h0m-14 11h0m15-1h0m-2 8h0m10-2h0m-10 5h0m5 6h0m-45 77h0m-1 12h0m12 1h0m-7 11h0m1 9h0m1-4h0m12 6h0m14 8h0m15-6h0m-22 15h0m29 10h0"/><path stroke="#c0acde" d="M976 236h0m515 182h0m-622 235h0m299 31h0m-51 169h0m557-1h0m-562 14h0m102-1h0m-512 296h0m-60 43h0m11 34h0"/><path stroke="#baa3e1" d="M924 271h0m-21 18h0m-28 363h0m114 35h0m667 176h0m-525 234h0m-382 60h0m-123 46h0m364 138h0m-10 8h0"/><path stroke="#b499e3" d="M929 235h0m24 11h0m0 17h0m-62 9h0m61 3h0m539 159h0m-354 218h0m47 12h0m-149 12h0m-33 4h0m18 27h0m4 4h0m22 71h0m17 52h0m60 34h0m31 13h0m-393 246h0m565 16h0m-622 32h0m35 3h0m248 169h0m-35 82h0m10 36h0"/><path stroke="#ae8fe6" d="M933 238h0m-11 10h0m-26 18h0m9 4h0m92-4h0m-1 390h0m11 0h0m158 0h0m-757 100h0m643 73h0m72 33h0m472 70h0m-157 209h0m-845 26h0m126 0h0m-24 3h0m48 0h0m-78 13h0m35-3h0m-117 16h0m5 2h0m91-1h0m-9 7h0m7 18h0m-7 74h0m271 173h0"/><path stroke="#a886e8" d="M910 233h0m5 52h0m27-2h0m-14 5h0m441 129h0m-908 238h0m34 10h0m525-1h0m-527 13h0m530-4h0m7 122h0m35 47h0m-24 27h0m-10 5h0m531 13h0m125 8h0m-104 7h0m-378 148h0m-452 74h0m587 12h0m-682 20h0m42 6h0m-78 21h0m36-5h0m-64 11h0m11 7h0m73-1h0m66-2h0m-100 115h0m324 25h0m27 5h0"/><path stroke="#a17ceb" d="M905 227h0m35 8h0m-38 9h0m3 3h0m63-5h0m-65 13h0m34-7h0m23 3h0m-20 32h0m13 1h0m-56 5h0m34 0h0m569 183h0m-344 219h0m-3 7h0m-741 138h0m653 10h0m669 3h0m-499 57h0m-15 10h0m42 19h0m344 3h0m-219 42h0m32 46h0m-291 109h0m-476 24h0m-45 1h0m8 3h0m115 4h0m-73 1h0m54 0h0m16 2h0m11 12h0m1 7h0m-130 9h0m34-1h0m57 0h0m-85 8h0m121-1h0m242 118h0m-25 115h0m27 47h0"/><path stroke="#9972ed" d="M915 237h0m53-3h0m-14 12h0m5 21h0m-63 11h0m90 377h0m52 7h0m109 14h0m2 0h0m38 1h0m-159 7h0m95 15h0m66 4h0m-225 52h0m70 30h0m12 65h0m349 139h0m-73 71h0m108 2h0m-161 65h0m-631 26h0m68 4h0m25 1h0m-108 3h0m768 13h0m-804 2h0m32 6h0m41-4h0m81 4h0m-2 12h0m-82 134h0m295 104h0m-21 26h0"/><path stroke="#9168ef" d="M926 261h0m-2 46h0m452 123h0m-17 7h0m83 10h0m71 17h0m-333 202h0m-108 187h0m-50 12h0m227 59h0m-46 10h0m-82 184h0m318 5h0m-704 21h0m672 15h0m-784 3h0m79 4h0m-35 12h0m-24 8h0m15 5h0m-52 6h0m24 4h0m7-1h0m34 84h0m5 10h0m-28 14h0m30 7h0m249 131h0"/><path stroke="#895ff1" d="M949 244h0m437 177h0m-15 18h0m128 16h0m-337 233h0m-302 54h0m131 92h0m84 1h0m603 102h0m-346 65h0m15 1h0m-92 95h0m-105 23h0m-459 26h0m387 5h0m166 6h0m185-6h0m-698 23h0m-143 18h0m51 5h0m38-6h0m-42 13h0m0 0h0m20 105h0m325 15h0"/><path stroke="#7f55f3" d="M1401 404h0m-23 30h0m-376 403h0m732 1h0m-524 76h0m80 36h0m154 61h0m-24 11h0m-46 61h0m-666 54h0m-55 16h0m-42 21h0m10-2h0m90 3h0m-50 106h0"/><path stroke="#754af5" d="M1206 713h0m-517 430h0m-56 49h0m-30 10h0m57 79h0m21 29h0m-19 8h0m-10 6h0"/><path stroke="#6940f7" d="M896 239h0m146 27h0m335 797h0"/><path stroke="#5b34f9" d="M739 1142h0m-68 145h0m327 57h0"/><path stroke="#4b28fb" d="M661 1290h0"/><path stroke="#3519fd" d="M657 1290h0"/><path stroke="#d3d3d3" d="M919 229h0m16 2h0m-40 3h0m36 1h0m21-2h0m21-1h0m-55 14h0m7-4h0m24 2h0m21-4h0m1 0h0m3 6h0m21 0h0m-110 6h0m24 1h0m0 0h0m4-3h0m12 0h0m63 4h0m31-3h0m-114 5h0m9 7h0m9-2h0m3-4h0m14 3h0m23-4h0m7 5h0m6 0h0m8-4h0m-77 8h0m31 3h0m2-3h0m0 0h0m71 1h0m-29 10h0m11 0h0m5-3h0m-106 7h0m12 1h0m8 2h0m11-1h0m13 4h0m38-2h0m-54 7h0m16-2h0m33-1h0m1 2h0m-51 10h0m27 14h0m438 86h0m1 0h0m26 3h0m6-2h0m-36 10h0m11 1h0m2 3h0m14-3h0m3 2h0m77 1h0m-111 1h0m10 7h0m1-6h0m7 1h0m40 2h0m33-1h0m1 1h0m16 1h0m11 1h0m0-4h0m2 3h0m15 2h0m-157 2h0m2 4h0m9-4h0m16 5h0m0-3h0m3 0h0m10-1h0m3-1h0m4 5h0m56-2h0m17-4h0m5 2h0m17 5h0m3-4h0m1-1h0m5 1h0m-148 12h0m29-4h0m7 4h0m1-7h0m20 5h0m24-1h0m3 1h0m14-2h0m21-1h0m3-1h0m13 3h0m7-1h0m10-2h0m5 1h0m2-1h0m15 1h0m1 2h0m-186 10h0m3-2h0m9 0h0m10-2h0m1-1h0m10 6h0m11-2h0m9 0h0m6-4h0m5 6h0m7-3h0m11 1h0m18 1h0m12-6h0m4 0h0m22 7h0m8 0h0m0 0h0m5-2h0m1 1h0m0 0h0m1-4h0m1 4h0m12 0h0m19-5h0m-187 12h0m21-3h0m11 5h0m8-4h0m1 1h0m12-1h0m46 2h0m5 0h0m59-3h0m4 1h0m1 1h0m6-3h0m7 3h0m8 2h0m-208 3h0m7 3h0m1-4h0m0 0h0m12 6h0m1 0h0m22-1h0m7-4h0m2 3h0m6-4h0m2 5h0m24-3h0m3-2h0m8 6h0m7-3h0m18-1h0m14-2h0m13 0h0m18 3h0m3-2h0m22 3h0m6-2h0m-201 7h0m1 2h0m12 1h0m2 0h0m15 2h0m13 1h0m25-7h0m4 1h0m1 4h0m10 0h0m14-5h0m4 2h0m4 3h0m5-1h0m5-3h0m9 6h0m1-3h0m5-4h0m52 2h0m-176 6h0m5 7h0m4-5h0m4 4h0m0-2h0m0 1h0m8-2h0m19 4h0m3 0h0m4-1h0m19-2h0m7 2h0m0 0h0m3-5h0m6 0h0m7 6h0m10-6h0m35 1h0m16-1h0m9 6h0m4-1h0m-170 7h0m4 1h0m31-2h0m15-2h0m1-2h0m7 7h0m0 0h0m36-7h0m7 6h0m3-1h0m9 1h0m1-6h0m12 0h0m9 1h0m4 2h0m4 3h0m3-3h0m8-3h0m-148 12h0m14-4h0m0 7h0m51-7h0m29 4h0m3 0h0m7-4h0m15 7h0m13-4h0m-123 6h0m3 0h0m4 0h0m1 2h0m5-3h0m8 6h0m3-6h0m1 3h0m22-3h0m25 5h0m28-5h0m-73 8h0m-568 72h0m1 5h0m6 1h0m-3 2h0m12 7h0m1 3h0m11 13h0m4-4h0m3 5h0m0 8h0m2 7h0m1-6h0m16 6h0m-16 1h0m21 12h0m294 2h0m-688 9h0m695-4h0m14 0h0m-714 10h0m7 0h0m1 0h0m15 2h0m389-4h0m249-1h0m60 0h0m-717 9h0m17-1h0m5 0h0m3-2h0m390 1h0m8 3h0m104 1h0m14 0h0m5-4h0m26 4h0m146-1h0m-729 9h0m7-3h0m0-2h0m18 3h0m2 2h0m3 0h0m9 1h0m4 1h0m23-2h0m482-4h0m4 3h0m6-4h0m147 2h0m21 4h0m-751 9h0m1 0h0m1-3h0m23 0h0m9 3h0m4-2h0m6 1h0m11-3h0m21 3h0m8-5h0m10 3h0m508-3h0m117 3h0m8-1h0m28 4h0m-733 4h0m33 0h0m2 4h0m1 0h0m5-4h0m9 4h0m6-3h0m18-4h0m507 0h0m103 5h0m2-4h0m28 3h0m-741 10h0m4-1h0m2 2h0m5-1h0m8-3h0m2 2h0m8 0h0m19-1h0m10 3h0m29-2h0m2 2h0m484-3h0m122 0h0m13-1h0m152 1h0m-866 10h0m69-3h0m5 0h0m7 0h0m1 2h0m6-1h0m8 2h0m596 0h0m-696 9h0m19-3h0m12-4h0m1 4h0m2 1h0m56-4h0m8 1h0m681-1h0m45 0h0m-831 14h0m4-3h0m23-3h0m2 0h0m13 6h0m3-2h0m33 2h0m5-2h0m4 2h0m8-3h0m11-4h0m5 1h0m-91 14h0m8-4h0m1-1h0m16 5h0m13-2h0m9 2h0m4-7h0m16 0h0m10 4h0m0-1h0m561 3h0m17-2h0m5-1h0m127 4h0m0-2h0m3-2h0m-819 12h0m3-7h0m32 5h0m3-3h0m6 1h0m19-1h0m6 5h0m6 0h0m3-2h0m18 1h0m399-5h0m172 0h0m17 0h0m7 3h0m3-1h0m0 1h0m11 3h0m58-7h0m-765 11h0m14 1h0m5-2h0m19 2h0m10 2h0m7-6h0m2 2h0m15-2h0m15 1h0m12-1h0m5 1h0m590 5h0m-690 2h0m1 6h0m9-4h0m15 5h0m11-1h0m43-5h0m4 1h0m4 3h0m377-4h0m184 5h0m5-2h0m9 0h0m149 2h0m-830 7h0m1-4h0m38 6h0m15-5h0m28 5h0m5-6h0m17 1h0m352 2h0m4-3h0m393 2h0m-857 7h0m13 3h0m0-2h0m14-3h0m19 4h0m10 2h0m2-5h0m22 2h0m17 0h0m7 4h0m-110 2h0m5 5h0m2-4h0m9 2h0m2-4h0m9 6h0m8-5h0m34-1h0m21 1h0m14 4h0m7-5h0m597 2h0m-712 9h0m11 4h0m5-6h0m12 6h0m6-2h0m34 2h0m6-6h0m5 2h0m12 2h0m21-5h0m570 6h0m12-5h0m-700 14h0m13-5h0m14-1h0m17 2h0m21-1h0m4 5h0m24-1h0m0 1h0m19-4h0m0-1h0m512 1h0m-612 7h0m15 1h0m5 4h0m22-2h0m23-5h0m2 4h0m5-4h0m7 5h0m580-3h0m-677 11h0m1 1h0m10 1h0m1-4h0m8-2h0m6 5h0m10-3h0m2 2h0m8-1h0m27 1h0m18 2h0m3-3h0m0-3h0m8 2h0m2 4h0m603-1h0m-689 3h0m11 3h0m3-2h0m2 0h0m4 3h0m1-4h0m6 3h0m16 1h0m4-4h0m0 2h0m18-2h0m20 3h0m1139 3h0m1-4h0m-1224 11h0m3 0h0m9-2h0m20-1h0m0 2h0m1-3h0m18 0h0m6 1h0m9 1h0m3-2h0m21-2h0m526 5h0m33-5h0m593 0h0m51 7h0m11-3h0m21-1h0m9 4h0m3-1h0m-1351 7h0m9 0h0m25-5h0m1 5h0m2 2h0m2 0h0m28-5h0m6 2h0m9-4h0m569 3h0m47 4h0m543-1h0m1-3h0m3 2h0m1 0h0m75-1h0m1 2h0m27 1h0m-1349 6h0m1 0h0m5-3h0m19 4h0m4 0h0m0-6h0m11 1h0m1 5h0m5-6h0m17 0h0m0 2h0m11 5h0m6-7h0m4 6h0m8-2h0m1 1h0m560 1h0m7-2h0m79 3h0m514-1h0m29 1h0m4-3h0m7-1h0m11-1h0m4 1h0m1 2h0m12 1h0m16-1h0m19-3h0m4 1h0m2 3h0m1-6h0m-1369 11h0m20-3h0m5 7h0m5-6h0m7 5h0m1-2h0m17-1h0m18-3h0m596 4h0m11 3h0m6-4h0m36-1h0m544 1h0m3 3h0m30-5h0m13 5h0m14-4h0m18-1h0m2 3h0m1-2h0m4 0h0m6 2h0m18-2h0m22 5h0m-1384 3h0m4 1h0m9 4h0m28-6h0m0 4h0m5-2h0m7-1h0m8 0h0m6 1h0m598-2h0m32 2h0m24 2h0m11-1h0m13 2h0m26 1h0m430-3h0m6-2h0m5-1h0m0 5h0m0-6h0m7 5h0m32 0h0m4-2h0m7 3h0m19 1h0m6 0h0m2-7h0m5 4h0m21 1h0m38-4h0m28 5h0m-1396 2h0m1 7h0m26-2h0m4 2h0m1-2h0m15-4h0m3 5h0m1-3h0m2 4h0m9-4h0m666 3h0m30-1h0m1-2h0m13-2h0m5 0h0m427 5h0m0-5h0m18 2h0m17 4h0m33-5h0m8-2h0m20 0h0m11 0h0m22 6h0m16 1h0m2-6h0m44 6h0m6-3h0m-1405 7h0m8 3h0m18 0h0m6 1h0m9-1h0m23-1h0m612-2h0m65-2h0m13 6h0m13-6h0m60 2h0m397 0h0m5 4h0m5-7h0m17 4h0m32 1h0m15-4h0m6 4h0m5-4h0m30 2h0m9-3h0m38 1h0m10 1h0m-1401 13h0m23-5h0m14-2h0m0 4h0m3 3h0m5-4h0m12 4h0m686-1h0m39-3h0m1 3h0m20-1h0m46 0h0m7 2h0m1-1h0m399-3h0m32-2h0m7 5h0m7-5h0m10 4h0m11-5h0m6 1h0m42 3h0m-1372 9h0m26-5h0m2 2h0m22 2h0m13 0h0m0-1h0m1-1h0m5 3h0m731-5h0m25 1h0m2 2h0m389 3h0m5 0h0m1 1h0m5-5h0m3 3h0m4 0h0m8-5h0m44 4h0m1 2h0m6-4h0m10 0h0m4 4h0m6-3h0m7-2h0m7 4h0m36-1h0m20-2h0m-1388 10h0m21 3h0m7-1h0m45 1h0m596-1h0m188-1h0m19-3h0m356-2h0m33 0h0m11 4h0m50-4h0m27 6h0m-1339 3h0m1 1h0m20-2h0m11 6h0m12 0h0m6-2h0m0 3h0m6-2h0m792-1h0m27 3h0m16-1h0m296-2h0m2-1h0m7 3h0m13-6h0m9 5h0m4-2h0m18 0h0m59 2h0m4-5h0m1 3h0m5-3h0m1 2h0m1 5h0m6-4h0m1 0h0m5-1h0m4 5h0m7-1h0m14 0h0m1-3h0m16-2h0m-1359 11h0m15-2h0m6-1h0m1-1h0m5 3h0m27 0h0m788 1h0m19-4h0m16 7h0m305-4h0m16 3h0m15-6h0m9 2h0m28 1h0m22 2h0m1 1h0m11-3h0m2 4h0m20-7h0m23 7h0m5 0h0m2-6h0m5 3h0m7 0h0m4-4h0m-1371 13h0m6-5h0m7 6h0m3-5h0m5 2h0m11 3h0m8 1h0m878 0h0m280-7h0m1 1h0m5 4h0m8 2h0m37-4h0m6 0h0m13 1h0m12-4h0m2 7h0m7-1h0m6-5h0m42 1h0m11 0h0m-1341 13h0m7-7h0m3 5h0m7-3h0m1 0h0m0 3h0m6-2h0m37 2h0m826-3h0m5 3h0m33-2h0m259-1h0m2 1h0m16 2h0m5-3h0m5 5h0m14 0h0m10-4h0m8 4h0m1-6h0m4 1h0m3-1h0m11 4h0m3 0h0m2 2h0m12 0h0m3-1h0m12-4h0m8 5h0m35-7h0m10 2h0m8 3h0m-1361 4h0m5 3h0m18 3h0m879-6h0m9 1h0m45 2h0m241 0h0m10-1h0m5 0h0m19-3h0m7 3h0m22 3h0m8-4h0m0 4h0m3-2h0m12-3h0m40 4h0m1-2h0m10-3h0m18 4h0m-1348 4h0m2 2h0m3-1h0m5 2h0m7-1h0m857 0h0m339-1h0m28-1h0m4 1h0m5 0h0m7 1h0m17 2h0m10 3h0m17-6h0m3 3h0m5-2h0m6 0h0m10 1h0m1-2h0m17 6h0m-1341 2h0m9 3h0m85 1h0m1241-2h0m12 4h0m-1338 3h0m5 4h0m944-2h0m104 2h0m1 0h0m-1066 6h0m21 2h0m8-3h0m10 2h0m14-4h0m20-1h0m24 1h0m909 5h0m1 0h0m34 1h0m4-1h0m3-3h0m0 3h0m4-2h0m8 2h0m5-6h0m2 7h0m7-1h0m-1074 8h0m1-6h0m1 2h0m5 5h0m12-3h0m4-3h0m3 2h0m4 2h0m968-1h0m9 2h0m11 1h0m3-4h0m7 2h0m1 2h0m17-6h0m6 6h0m2-7h0m21 2h0m2 2h0m12 1h0m-1094 3h0m16 3h0m24 1h0m904-4h0m8 4h0m36 1h0m2 0h0m0 0h0m38 2h0m5-3h0m6 0h0m0-3h0m17 2h0m21-3h0m-1076 12h0m0 3h0m5-4h0m1 3h0m2 1h0m7-1h0m2-4h0m3 0h0m4 0h0m3 5h0m1-1h0m40-1h0m18-3h0m856 5h0m50 0h0m1-5h0m7 2h0m2-1h0m4 4h0m1-1h0m10-2h0m1 3h0m12-4h0m13 2h0m19 2h0m0-5h0m28 2h0m43 2h0m-1129 2h0m12 5h0m2 2h0m5-7h0m21 6h0m870-6h0m8 6h0m55 0h0m10 0h0m14 1h0m6 0h0m13-6h0m11-1h0m8 6h0m9-5h0m9-1h0m2 5h0m19 1h0m12-4h0m19 1h0m-1093 9h0m1-3h0m5 3h0m25 2h0m871-1h0m1 0h0m21 0h0m9-5h0m5 4h0m29 1h0m14 0h0m2-2h0m26-1h0m2-2h0m2 0h0m1 1h0m29 5h0m5-2h0m22 3h0m6-1h0m13-1h0m-1097 8h0m13 0h0m889-5h0m35 6h0m37 0h0m18-2h0m3 0h0m6 3h0m1-7h0m16 0h0m19 7h0m6 0h0m23-4h0m2 4h0m9-2h0m5-5h0m1 5h0m0-4h0m30 4h0m-1108 7h0m3 0h0m9 0h0m3 3h0m25-7h0m897 2h0m43-1h0m3 0h0m10 3h0m47 1h0m6-5h0m33 1h0m0 6h0m6-7h0m39 3h0m-1090 12h0m3-4h0m928 0h0m12 4h0m5-6h0m30 4h0m1-1h0m15-4h0m3 3h0m9 4h0m7 0h0m3-7h0m15 2h0m1 0h0m17 1h0m-1063 12h0m1-2h0m5-1h0m3-1h0m5-2h0m819 5h0m56-1h0m51-5h0m19 0h0m10 0h0m6 1h0m34 3h0m9-2h0m11 5h0m17-6h0m24 4h0m12-1h0m-1076 8h0m2 2h0m1-3h0m19 3h0m2 0h0m841-2h0m11-4h0m5 2h0m26 4h0m8-2h0m2-3h0m37-1h0m5 0h0m5 0h0m16 7h0m7-7h0m11 4h0m12-2h0m3 0h0m23 0h0m6 0h0m5 0h0m25 1h0m48 3h0m-1106 6h0m2-1h0m809 3h0m1-6h0m96 6h0m11 1h0m14-3h0m7-4h0m23 7h0m7-5h0m9 3h0m5-1h0m67-2h0m3-1h0m4 5h0m0-1h0m-223 9h0m17-2h0m32-1h0m35 3h0m11-1h0m5-5h0m78 4h0m5 3h0m11-1h0m23-6h0m2 4h0m-273 8h0m57-3h0m6 3h0m27-1h0m4 3h0m2-2h0m4 2h0m3 0h0m0-4h0m18-1h0m1 1h0m28-1h0m12 3h0m20-1h0m23 1h0m7 1h0m1-1h0m17-3h0m6-1h0m26 1h0m7 1h0m27 3h0m5 2h0m-299 6h0m29-5h0m56 7h0m5-2h0m44-2h0m27 0h0m8 2h0m24-5h0m6 6h0m18-5h0m3 0h0m8 5h0m15-5h0m13 0h0m23 4h0m10-3h0m3-2h0m2 3h0m15 1h0m-337 8h0m10 3h0m16 0h0m6-7h0m25 6h0m8-3h0m2-2h0m17 6h0m62 0h0m4-1h0m5-2h0m13-1h0m5 2h0m6 0h0m7 1h0m10-4h0m11 3h0m20 1h0m11 1h0m9 0h0m1-7h0m6 3h0m2 1h0m2 1h0m4-2h0m31-1h0m19 3h0m1-1h0m-684 11h0m5-1h0m6-2h0m316-3h0m34 0h0m4 4h0m5-5h0m21 6h0m2-5h0m2 2h0m16 4h0m16-7h0m6 7h0m6-1h0m3 0h0m16 0h0m2 0h0m33-4h0m59-2h0m6 5h0m12-3h0m27 5h0m1-7h0m0 1h0m9-1h0m12 7h0m1 0h0m3-4h0m3 3h0m0-5h0m28 0h0m2 1h0m29 3h0m20 2h0m1-2h0m0-3h0m-717 12h0m12-6h0m12 4h0m334 0h0m1 0h0m9 1h0m5-4h0m14-1h0m0 7h0m0-7h0m6 6h0m10-3h0m0 4h0m7-6h0m5 4h0m1 2h0m14-5h0m1 1h0m17 1h0m37 1h0m10-3h0m16 5h0m26-6h0m20 5h0m2 1h0m3-2h0m6-2h0m16 4h0m1-4h0m9 2h0m0 0h0m2 2h0m3 0h0m5 0h0m2-2h0m11-3h0m46 2h0m12-2h0m5 5h0m6-2h0m14-5h0m15 6h0m-721 7h0m364-2h0m3-2h0m3-1h0m15 6h0m3-5h0m28 0h0m2 1h0m5 3h0m13 0h0m37 0h0m12 2h0m10-6h0m9 5h0m28-2h0m19 1h0m25-3h0m28 1h0m31 4h0m19-2h0m10-1h0m7 0h0m10-4h0m4 7h0m7-7h0m9 3h0m14 3h0m8 0h0m14-2h0m-403 8h0m9 1h0m5-2h0m37-1h0m12 4h0m3-6h0m59 3h0m7 1h0m6 1h0m39-5h0m5 2h0m20-2h0m12 2h0m14 0h0m7 2h0m1 1h0m18-3h0m5 3h0m10 0h0m2-5h0m3 6h0m7-6h0m1 0h0m7 6h0m49-6h0m11 2h0m1 0h0m11 4h0m2-5h0m8 5h0m14 1h0m1 0h0m-738 4h0m3-1h0m19-1h0m3 1h0m313 0h0m6 2h0m15-2h0m75-2h0m15 0h0m4 6h0m6 1h0m12-4h0m8-3h0m25 3h0m24 3h0m6-1h0m2-2h0m42-3h0m18 1h0m14 3h0m21-4h0m10 6h0m4-6h0m1 1h0m5 6h0m10-2h0m10 2h0m32-6h0m3 3h0m18 1h0m1-2h0m0-3h0m-748 15h0m17-4h0m6 0h0m30 4h0m303-1h0m6-6h0m2 1h0m3 4h0m7-1h0m6-3h0m13 0h0m8-1h0m6 3h0m23 3h0m3-6h0m10 7h0m4-7h0m2 3h0m0-1h0m5 4h0m10 0h0m13-6h0m17 4h0m9-4h0m7 0h0m1 3h0m13-1h0m0 4h0m11-2h0m16-3h0m14-1h0m7 1h0m15 3h0m24-2h0m0 1h0m60-2h0m22 0h0m2 1h0m3 5h0m0-5h0m5 5h0m10 0h0m6-7h0m13 2h0m12 5h0m5-5h0m-754 9h0m7 4h0m38-6h0m15 1h0m305-2h0m14 5h0m3-1h0m9-2h0m11 3h0m7-1h0m5 2h0m0-3h0m10-3h0m35 4h0m26-3h0m1 1h0m81-1h0m3 1h0m43-1h0m12 2h0m8 2h0m1 2h0m1-5h0m1-1h0m15 6h0m26-1h0m4 0h0m10-6h0m3 1h0m6 1h0m11 2h0m0 2h0m4-3h0m10 0h0m17 2h0m1-4h0m5 6h0m-754 3h0m58 5h0m4-2h0m361 2h0m4-6h0m6 6h0m12-1h0m126-5h0m2 1h0m9 5h0m3 0h0m20-5h0m1-1h0m5 5h0m3-2h0m5 0h0m4 3h0m17-2h0m6 0h0m11 1h0m0 0h0m9-1h0m15-3h0m3 1h0m6-1h0m6 4h0m4-1h0m7-3h0m18 4h0m10-4h0m0 4h0m17-6h0m3 4h0m-802 9h0m8-5h0m4 0h0m3 7h0m47-4h0m34 1h0m1-2h0m351 5h0m24-2h0m16 0h0m15 1h0m3 1h0m13-3h0m6-3h0m12-1h0m4 6h0m2-2h0m8-4h0m24 6h0m28-5h0m3 0h0m24 4h0m18-3h0m24 1h0m2 0h0m5 3h0m1-3h0m4-2h0m9 0h0m16 0h0m5 0h0m10 2h0m8-2h0m11 4h0m11-2h0m8 1h0m9-3h0m9-1h0m-813 13h0m32 2h0m15-7h0m60 7h0m12-6h0m8 5h0m1-5h0m339 4h0m18-4h0m4 0h0m16 2h0m26 3h0m4 0h0m18-3h0m3 1h0m4 0h0m6-3h0m2 3h0m27 1h0m52 0h0m4 0h0m36-2h0m20-1h0m1-2h0m13 3h0m10 4h0m1-3h0m22 2h0m15 1h0m13-4h0m11-1h0m6 0h0m8-1h0m10 0h0m3 0h0m-699 14h0m13-7h0m332 1h0m19 2h0m10 4h0m4-7h0m5 7h0m17 0h0m1 0h0m58-3h0m7 1h0m15 0h0m18 0h0m1 2h0m122-3h0m4 1h0m19-5h0m23 5h0m-802 10h0m21 0h0m42-7h0m6 1h0m48 0h0m7 4h0m398-5h0m1 5h0m9-2h0m3-2h0m14 5h0m11 1h0m3-7h0m18 1h0m9 3h0m19-2h0m4 0h0m55 0h0m76 2h0m10-2h0m1 3h0m4-2h0m11-1h0m0 5h0m23-4h0m0-1h0m-777 10h0m2-3h0m77-1h0m25 7h0m24-6h0m380-1h0m38 1h0m197-1h0m13 0h0m-790 15h0m75-6h0m21 5h0m46 0h0m-114 6h0m128-2h0m-91 21h0m74-5h0m10 3h0m1-5h0m9 1h0m-91 68h0m15 6h0m-1 24h0m304 11h0m-7 4h0m20 2h0m-39 98h0m5 1h0m-27 7h0m27-5h0m2-1h0m1 3h0m-30 9h0m20-3h0m3 10h0m-15 9h0m5-3h0m9 1h0m5 1h0m-15 7h0m24 1h0m-30 6h0m11-1h0m21 3h0m0-3h0m15 7h0m-9 2h0m1 1h0m11 1h0m3-3h0m-3 14h0m7 0h0"/><path stroke="#c0acde" d="M903 227h0m-25 38h0m121 392h0m46 127h0m61 61h0m188 115h0m33 45h0m26 159h0m-756 26h0m377 130h0m8 27h0m-52 98h0"/><path stroke="#baa3e1" d="M936 243h0m59 428h0m178-7h0m-112 174h0m12-2h0m-59 37h0m-289 263h0m-12 31h0m20-5h0m-80 10h0m-67 8h0m33-3h0m36 15h0m58 3h0m-107 5h0m61 5h0"/><path stroke="#b499e3" d="M902 236h0m-9 14h0m-68 352h0m320 70h0m-88 102h0m-30 50h0m39 8h0m0 22h0m210 99h0m-942 30h0m1153 21h0m-9 15h0m-37 33h0m-690 60h0m343 19h0m-403 19h0m-36 10h0m-4 20h0m56-2h0m22-2h0m-79 10h0m13 18h0m316 100h0m-8 30h0m-17 121h0"/><path stroke="#ae8fe6" d="M934 236h0m-26 12h0m-25 13h0m509 168h0m49 8h0m-48 35h0m-235 186h0m24 2h0m-27 15h0m61 64h0m-845 70h0m1280 18h0m-57 8h0m-577 19h0m102-5h0m5 2h0m553 23h0m-21 27h0m-889 216h0m606-3h0m-769 50h0m54 3h0m707 6h0m-669 4h0m1 3h0m-29 10h0m-86 3h0m18 2h0m19 11h0m114-4h0m-62 68h0m323 82h0m-62 109h0"/><path stroke="#a886e8" d="M919 244h0m17 5h0m3 5h0m-58 6h0m53 28h0m31 6h0m166 364h0m47 3h0m-150 7h0m86 10h0m-214 5h0m252 3h0m28 7h0m22 32h0m-167 16h0m-61 31h0m60 23h0m-629 26h0m-41 17h0m682-2h0m42 16h0m45 9h0m476 0h0m75 13h0m-1308 7h0m629 5h0m597 28h0m58 11h0m-460 5h0m417 12h0m-1272 68h0m975 33h0m-544 49h0m681 10h0m-132 6h0m-615 35h0m741-1h0m-166 3h0m-639 8h0m-12 14h0m17-3h0m-7 15h0m526 0h0m-552 12h0m70-2h0m-99 3h0m6 7h0m120-6h0m-125 8h0m2-1h0m11 4h0m64 25h0m1 76h0m-23 7h0m340 14h0m-3 19h0"/><path stroke="#a17ceb" d="M939 241h0m-28 13h0m37 13h0m556 154h0m13 24h0m-73 7h0m17 35h0m-304 151h0m-172 28h0m144 4h0m-96 8h0m118-5h0m137 18h0m-121 9h0m-94 25h0m17 1h0m-660 29h0m593 48h0m620 25h0m-636 12h0m63 2h0m516 9h0m139 1h0m-18 35h0m-357 108h0m88 36h0m-222 34h0m230 1h0m-5 6h0m-3 36h0m-677 15h0m-35 21h0m28 0h0m3 5h0m-135 5h0m18 10h0m11 3h0m52-2h0m36 7h0m-43 7h0m-88 6h0m112 3h0m-92 7h0m5 6h0m1-1h0m23 6h0m-37 12h0m372 132h0m-31 110h0"/><path stroke="#9972ed" d="M1019 263h0m473 158h0m49 21h0m-401 232h0m-12 8h0m-18 40h0m94 3h0m-725 12h0m1200 93h0m-30 8h0m2 16h0m-507 19h0m489 18h0m-639 8h0m423 113h0m-655 109h0m-22 9h0m2 6h0m551 15h0m-556 3h0m-6 16h0m-91 10h0m566-3h0m-582 13h0m0-3h0m96 10h0m35-4h0m-67 7h0m-43 111h0m334 3h0m14 30h0"/><path stroke="#9168ef" d="M930 247h0m56 5h0m-106 4h0m497 158h0m16 14h0m-247 226h0m12 17h0m-2 16h0m-298 58h0m185 84h0m655 0h0m-18 31h0m-55 12h0m58 36h0m-20 34h0m-302 79h0m-117 3h0m65 4h0m24 21h0m-147 27h0m133 51h0m-632 21h0m532 7h0m-27 16h0m-602 8h0m52-3h0m84 1h0m31 4h0m-93 3h0m30 4h0m-20 5h0m4 101h0m-27 27h0m283 119h0"/><path stroke="#895ff1" d="M898 231h0m-15 24h0m61-6h0m-45 9h0m31 9h0m30 21h0m417 138h0m188 447h0m-5 61h0m-330 149h0m-92 11h0m196-6h0m-45 10h0m131 1h0m-60 28h0m28-6h0m-70 23h0m-685 37h0m-47 3h0m56 30h0m28 87h0m313 28h0"/><path stroke="#7f55f3" d="M1177 656h0m-120 114h0m602 105h0m58 9h0m-366 99h0m-57 41h0m-60 68h0m148 31h0m-643 15h0m-95 19h0m3 7h0m-2 132h0m26 3h0m273 145h0"/><path stroke="#754af5" d="M1557 882h0m129 26h0m-217 177h0m-132 37h0m-683 50h0m-7 12h0m7 75h0m8 16h0m12 7h0"/><path stroke="#6940f7" d="M947 231h0m407 236h0m56 13h0m-192 238h0m-607 457h0"/><path stroke="#5b34f9" d="M1094 1152h0"/><path stroke="#4b28fb" d="M667 1285h0"/><path stroke="#d3d3d3" d="M928 235h0m5 1h0m9 1h0m4 0h0m1-2h0m6-1h0m11 5h0m3-2h0m-75 8h0m12-5h0m19 3h0m9 4h0m13-7h0m4 0h0m14 4h0m8-3h0m16 6h0m-48 1h0m30 7h0m4-6h0m4 3h0m2-1h0m3 2h0m4-3h0m6 2h0m-61 11h0m28-4h0m17-3h0m41 6h0m12-2h0m3-4h0m-145 12h0m26 0h0m4 3h0m61-6h0m7 1h0m1 1h0m13 2h0m17-2h0m2 4h0m34-6h0m-164 13h0m6-4h0m19 0h0m13-1h0m58-1h0m10 1h0m-68 14h0m5-7h0m25 4h0m1-3h0m-29 7h0m31 26h0m426 86h0m23 7h0m4-3h0m16-3h0m21 1h0m-49 7h0m7 1h0m15 5h0m54-6h0m-111 11h0m1 2h0m28 0h0m1-1h0m13-2h0m3 2h0m73 0h0m21 0h0m8 2h0m-154 1h0m17 7h0m12 0h0m2-6h0m12 0h0m10 1h0m1 5h0m33-3h0m37-4h0m7 5h0m14-3h0m-151 11h0m37-2h0m10 4h0m7-3h0m0 0h0m1-1h0m5 2h0m3-4h0m14-1h0m4 3h0m5-2h0m6 3h0m7 2h0m1-4h0m20-2h0m6 3h0m1 1h0m3-3h0m3-1h0m42 7h0m1-2h0m-186 6h0m22 0h0m1 3h0m15 1h0m29 0h0m9-2h0m1-3h0m6-2h0m16 1h0m0 4h0m21-3h0m5-2h0m0 4h0m14 3h0m7-4h0m33 4h0m7-6h0m-194 13h0m9 0h0m28-6h0m2 3h0m12 3h0m13-6h0m29 4h0m21-1h0m1 1h0m7 0h0m6 3h0m7-2h0m6 1h0m9 1h0m28-3h0m3 3h0m9-3h0m12 1h0m4-2h0m-211 9h0m4 0h0m9 1h0m11 1h0m16-2h0m12-3h0m18 6h0m18-6h0m0 5h0m2-4h0m6 3h0m10-4h0m12 6h0m11-2h0m0 0h0m34-4h0m5 1h0m3 4h0m5-1h0m2-2h0m3 2h0m7 2h0m-199 5h0m23-2h0m4 2h0m1-2h0m6 3h0m0-2h0m2 4h0m17-1h0m27-6h0m7 0h0m5 0h0m1 6h0m0 1h0m4-7h0m0 6h0m6 1h0m16-6h0m34 6h0m2-7h0m5 6h0m29-1h0m0-1h0m3-2h0m-174 12h0m25-2h0m2 1h0m12 0h0m2 0h0m9 2h0m34-7h0m3 1h0m8 4h0m22-1h0m6-3h0m7 5h0m5-4h0m1 3h0m1 0h0m5 2h0m-149 4h0m3 0h0m33 2h0m7 2h0m1-3h0m34 0h0m5-2h0m1-2h0m2 4h0m7 0h0m12-1h0m12 0h0m16 2h0m1-1h0m-140 5h0m27-1h0m0 3h0m13 2h0m19-1h0m5-2h0m12-2h0m4 4h0m11 0h0m33-3h0m6-1h0m1 4h0m1-3h0m-126 7h0m6 1h0m22 0h0m1 5h0m9 0h0m3-1h0m8-2h0m13-2h0m1 0h0m16 4h0m1 1h0m1-4h0m5-2h0m-24 8h0m-71 8h0m-523 66h0m9 3h0m0 10h0m0 5h0m10 1h0m8 9h0m5-3h0m-4 5h0m1 5h0m9-1h0m1 3h0m-4 2h0m-5 9h0m13-1h0m6 1h0m8 1h0m-395 18h0m5-1h0m10 3h0m386-7h0m1 2h0m-409 11h0m16 2h0m13-1h0m512-2h0m10 2h0m12-2h0m28 1h0m97 1h0m25 1h0m2-7h0m-692 15h0m19-2h0m7 0h0m5-1h0m0 1h0m520-1h0m0 0h0m19-2h0m6-2h0m6 0h0m95 1h0m-709 13h0m7-4h0m5 4h0m1-6h0m3 6h0m3-4h0m5 1h0m13 0h0m10 1h0m12-3h0m522 5h0m150-5h0m1 3h0m-755 10h0m5-4h0m4 0h0m8-2h0m7 7h0m4-2h0m7-5h0m8 0h0m15 4h0m2-2h0m15 4h0m20 0h0m0-3h0m481-1h0m159 5h0m8-6h0m-745 9h0m1 0h0m11 0h0m30 2h0m8 2h0m9-6h0m3 7h0m8 0h0m1-5h0m5 5h0m8-2h0m5 2h0m479-3h0m27 2h0m11 0h0m107 0h0m9-4h0m29 3h0m19 2h0m-767 3h0m21 3h0m1-5h0m3 0h0m12 3h0m3 3h0m1-5h0m5 4h0m0-1h0m1-1h0m12 1h0m1-3h0m9-1h0m2 1h0m1 6h0m416-4h0m274 2h0m-766 7h0m607-4h0m28 5h0m12-1h0m78-1h0m25-1h0m0 2h0m2 1h0m23 2h0m-782 3h0m3 0h0m6 5h0m26 0h0m24-2h0m5 1h0m3 1h0m13-7h0m5 0h0m621 0h0m93 7h0m26-2h0m-838 10h0m2-2h0m12-3h0m3 2h0m4 2h0m4-5h0m18-1h0m4 0h0m17 5h0m11-1h0m722-4h0m-802 15h0m4-1h0m2-1h0m3 2h0m13-2h0m8 1h0m8-1h0m10-2h0m10 2h0m10 1h0m10-5h0m4-1h0m3 5h0m11 2h0m5-5h0m1 1h0m11 3h0m1-4h0m9-2h0m368 7h0m190-7h0m-682 12h0m11-3h0m5-1h0m4 0h0m16 4h0m10-2h0m9 5h0m1 0h0m12-5h0m6 2h0m10 3h0m6-3h0m8 2h0m3-1h0m374 2h0m192 0h0m13-2h0m17 1h0m2 1h0m-709 7h0m13 0h0m3 0h0m1-3h0m18-2h0m22 0h0m3 4h0m6-4h0m4 2h0m2 0h0m16 1h0m7-2h0m9 3h0m3-2h0m1 0h0m371 3h0m185 1h0m20-6h0m-674 13h0m37-6h0m2 5h0m0-4h0m0 5h0m10-6h0m3 6h0m9 0h0m0-4h0m9 5h0m7-1h0m1-5h0m4 3h0m5 2h0m9-2h0m1-2h0m2 2h0m370-3h0m97 1h0m93 5h0m4-4h0m-654 10h0m7-3h0m2 3h0m10-4h0m17 6h0m3-1h0m11-2h0m20 0h0m11-2h0m12-2h0m341 4h0m221-4h0m-667 15h0m2-5h0m2 5h0m11-5h0m15 3h0m2 0h0m17 1h0m21-4h0m16-1h0m17 3h0m-123 7h0m14 4h0m7-2h0m6-1h0m12 0h0m3-4h0m4 7h0m8-4h0m3 3h0m21 0h0m3 1h0m8 0h0m6-1h0m9-2h0m652-2h0m-744 13h0m28-7h0m1 2h0m8 2h0m37 2h0m3-2h0m582-1h0m-684 8h0m11-3h0m9 1h0m16-1h0m2 4h0m1 1h0m7-1h0m13 2h0m5-2h0m12 3h0m18-4h0m3-2h0m7-1h0m521 0h0m63 2h0m-688 8h0m2 1h0m44 1h0m1-1h0m3 0h0m15-2h0m12 0h0m14 4h0m11-3h0m1-1h0m0 4h0m19-1h0m590-3h0m-705 7h0m16 4h0m10-3h0m24 0h0m19 4h0m6-4h0m29 0h0m-105 7h0m7 2h0m8 0h0m5 1h0m7-3h0m6 4h0m24-2h0m8-1h0m20 1h0m1181 5h0m-1278 6h0m8 1h0m6-6h0m13 3h0m24 0h0m1 2h0m19 2h0m3-5h0m5-2h0m15 2h0m6 5h0m1-7h0m6 7h0m11-3h0m525-2h0m27-2h0m8 3h0m572-3h0m2 5h0m95 2h0m-1349 2h0m13 1h0m2 1h0m11-1h0m1 1h0m3 1h0m16 3h0m12-5h0m17 5h0m23-1h0m597-3h0m550 0h0m5 1h0m51 0h0m39 2h0m1-3h0m1 1h0m28-3h0m-1363 10h0m7-2h0m10 6h0m16-7h0m2 3h0m8 2h0m2-2h0m10 0h0m21 4h0m1-5h0m31 4h0m535-3h0m0 1h0m9 3h0m10 0h0m23-7h0m7 3h0m563-3h0m25 2h0m3-2h0m5 6h0m16-6h0m34 5h0m9 1h0m2-5h0m1 4h0m3 2h0m2-3h0m1 0h0m1-1h0m5 4h0m-1369 1h0m5 5h0m7 1h0m4 0h0m3-2h0m6-3h0m30-1h0m2 7h0m0-2h0m4-1h0m3 0h0m8 0h0m3-1h0m0 2h0m4-3h0m5-2h0m5 5h0m0-2h0m591-2h0m10 5h0m43-5h0m20 2h0m9 3h0m500-6h0m8 5h0m5 0h0m5-3h0m6 0h0m19 1h0m28 0h0m13-2h0m34 6h0m2-6h0m-1379 7h0m2 7h0m1 0h0m25-3h0m6 2h0m1-6h0m18 7h0m18-1h0m646-1h0m24 1h0m465-2h0m14 1h0m20-4h0m28 2h0m31-2h0m2 3h0m18 3h0m21-7h0m13 7h0m11-3h0m2 3h0m4 0h0m4-2h0m8-1h0m-1385 7h0m2 0h0m2 3h0m1-1h0m20-1h0m1-4h0m23 0h0m672 0h0m32 4h0m15 2h0m432-5h0m20-1h0m21 6h0m6-1h0m27 1h0m3-1h0m32-3h0m37 3h0m1-2h0m9 3h0m40-6h0m0 7h0m-1401 5h0m4 1h0m3 2h0m15-4h0m1-1h0m4-2h0m11 0h0m5 1h0m635 0h0m67 4h0m25-2h0m13-1h0m2-2h0m20 2h0m52 3h0m29-3h0m323 5h0m20-5h0m8-2h0m5 2h0m9 2h0m1-4h0m3 3h0m3-2h0m20-1h0m2 1h0m16 3h0m8 2h0m3-1h0m4-5h0m13 4h0m0-3h0m12 6h0m34 0h0m11-1h0m9 0h0m-1375 8h0m12 0h0m7 0h0m7-4h0m1-2h0m20 1h0m612-1h0m96 1h0m14-1h0m40 4h0m20-2h0m357-1h0m10 2h0m7-2h0m9-1h0m24 6h0m7-1h0m23-5h0m9 7h0m1-7h0m1 5h0m6 0h0m4-4h0m2 5h0m7 1h0m4-7h0m2 0h0m15 6h0m23-6h0m2 6h0m10-6h0m6 2h0m4 1h0m-1369 9h0m10 2h0m3-1h0m10-4h0m1-1h0m6 1h0m5 1h0m16 5h0m792-2h0m63-1h0m292-3h0m2 2h0m0 4h0m37-7h0m23 1h0m4 5h0m8-1h0m16-1h0m23-4h0m5 2h0m21 2h0m6-3h0m11 1h0m-1326 12h0m8-5h0m612 2h0m174 2h0m10-1h0m24 2h0m4 0h0m60-3h0m303 2h0m1 0h0m0-2h0m28 4h0m1-5h0m12 3h0m4-5h0m1 0h0m4 3h0m9 3h0m16-5h0m19 6h0m32 0h0m-1368 2h0m12 2h0m7-3h0m3 7h0m14-7h0m1 4h0m2 3h0m0-4h0m0-3h0m11 2h0m7-2h0m17 6h0m778-2h0m8-4h0m28 3h0m340 4h0m3-5h0m22 5h0m29-4h0m19-3h0m15 0h0m2 4h0m4 3h0m24-1h0m-1348 5h0m31-3h0m824 1h0m25 5h0m3-3h0m9-3h0m312 0h0m16 4h0m25 1h0m1-4h0m30-1h0m16 4h0m3 3h0m2-1h0m13-2h0m22 2h0m29-5h0m0 5h0m3-4h0m-1366 11h0m4 1h0m23-4h0m5 3h0m2-4h0m0 4h0m9-4h0m3 1h0m25-1h0m794 0h0m46 2h0m285 1h0m4-2h0m6 4h0m19-5h0m6-1h0m5 3h0m6 0h0m22 4h0m5-6h0m2 6h0m5-7h0m5 7h0m20-3h0m10 0h0m30 1h0m3 2h0m7-7h0m16 5h0m12-2h0m-1372 6h0m3 4h0m3 2h0m3-1h0m17-5h0m0 4h0m9-1h0m50-3h0m792-1h0m0 0h0m7 1h0m41 3h0m280-2h0m21-2h0m3 5h0m0-4h0m20 2h0m24 1h0m49 3h0m6-1h0m1-1h0m30 2h0m4-3h0m-1339 8h0m4-2h0m50-2h0m795 3h0m322 4h0m35 0h0m27 0h0m12-1h0m13-5h0m9 0h0m6 3h0m0 1h0m40-3h0m2 5h0m24-6h0m-1356 11h0m1 2h0m4 1h0m12-6h0m1 0h0m5-1h0m57 0h0m816 3h0m49 0h0m250 3h0m10-5h0m43 1h0m26 5h0m23-1h0m25-3h0m4-3h0m-1326 13h0m13-1h0m10-3h0m2 4h0m883-3h0m25-2h0m9 2h0m2-2h0m7 2h0m-958 7h0m0 2h0m1 3h0m9-3h0m2 1h0m865-3h0m59 3h0m26-4h0m221 3h0m-1173 7h0m16 1h0m5 1h0m23 3h0m40-7h0m7 3h0m837 4h0m73 0h0m36-4h0m30 1h0m-1082 6h0m5-1h0m1 5h0m17 0h0m2-4h0m1-1h0m10 5h0m24-3h0m35 2h0m3-2h0m826 4h0m84-6h0m3 6h0m11-2h0m9 1h0m5-3h0m13-3h0m15 1h0m1 4h0m6 2h0m17 0h0m6 0h0m-1090 7h0m2-4h0m0 0h0m35 0h0m23 4h0m28 1h0m896-2h0m7-4h0m4 3h0m3-2h0m1 4h0m2 1h0m4-3h0m3 0h0m22 3h0m1-3h0m7-1h0m5 0h0m1-1h0m10 4h0m12-5h0m24 3h0m-1068 9h0m3-5h0m12 3h0m946 4h0m17-2h0m20-5h0m0 4h0m12 0h0m9 3h0m2-5h0m9 5h0m16-5h0m7 4h0m9-1h0m6-5h0m36 7h0m-1126 1h0m10 2h0m9 2h0m6 1h0m0-2h0m46 3h0m862-3h0m18 0h0m34 2h0m7-3h0m22 1h0m13 4h0m14-2h0m16-1h0m11-1h0m6 0h0m2 0h0m3-3h0m5 3h0m4-3h0m-1074 11h0m5-1h0m9 0h0m2-1h0m937-1h0m0 1h0m4 2h0m15-1h0m1-2h0m9 1h0m1 1h0m11 4h0m8-4h0m2 4h0m5 1h0m12-4h0m12 1h0m2-2h0m1 5h0m7-4h0m4 1h0m1 2h0m4 0h0m1-4h0m8 0h0m13 3h0m49 1h0m-1121 8h0m16-1h0m4 1h0m28-4h0m918 3h0m1-1h0m5-3h0m6 0h0m1 5h0m8-2h0m10 0h0m29-1h0m2-1h0m16 2h0m9 1h0m17-1h0m12 3h0m-1081 8h0m946-1h0m20 1h0m23-1h0m13-3h0m0 2h0m15-1h0m4-3h0m7 5h0m2 1h0m3-7h0m5 1h0m11 1h0m93 5h0m-1127 3h0m3 1h0m880 3h0m34-4h0m8 0h0m40 1h0m9-3h0m8 1h0m7 4h0m6-5h0m14 1h0m1 3h0m14 2h0m4-4h0m21 0h0m11 5h0m-1054 5h0m3 3h0m10-2h0m864-3h0m59 4h0m3-1h0m2-2h0m8-2h0m6 0h0m31 3h0m14 3h0m13-3h0m8-3h0m7 0h0m28 0h0m7 6h0m-1058 1h0m2 4h0m17 2h0m786 1h0m13-4h0m22 3h0m28-3h0m3 1h0m3 2h0m15-5h0m47 0h0m4 1h0m6-2h0m39 1h0m2 4h0m7-5h0m29 4h0m25 1h0m26-1h0m-1078 4h0m4 2h0m0 2h0m3-2h0m2 3h0m12-3h0m1-2h0m2 7h0m774-2h0m109-1h0m41 2h0m21 0h0m5-5h0m15-1h0m8 7h0m0-6h0m1 3h0m24 0h0m15-1h0m13 3h0m1-6h0m4 4h0m10 3h0m8-3h0m-271 10h0m12-5h0m4 5h0m8 1h0m1-3h0m8 0h0m7 2h0m11 0h0m63 0h0m14-5h0m10 5h0m25-3h0m7 0h0m3-1h0m4 5h0m7 0h0m6-6h0m18 0h0m34 0h0m47 4h0m-302 9h0m9-6h0m19 0h0m15 5h0m5-2h0m10 4h0m10-5h0m7 4h0m3 1h0m2-6h0m53 4h0m30-1h0m4 0h0m20-4h0m21 1h0m13 5h0m4-1h0m3-5h0m15 1h0m20 6h0m8-6h0m1 4h0m0-1h0m3-1h0m0 4h0m10-3h0m13 1h0m1 0h0m-276 4h0m0 6h0m19-7h0m1 6h0m22-2h0m20 2h0m28-4h0m11 3h0m3 0h0m11 1h0m6-3h0m19 1h0m1 1h0m6-1h0m4-3h0m2-1h0m25 3h0m13 3h0m40-3h0m3-1h0m3-2h0m8 6h0m6-4h0m27 3h0m-320 6h0m18-3h0m17 5h0m3-5h0m18 1h0m9 1h0m7 1h0m23-2h0m22 6h0m6 0h0m20-6h0m3 3h0m13-3h0m14 1h0m17 3h0m4 2h0m2-2h0m16-1h0m1-1h0m2 4h0m8-4h0m3-2h0m36 1h0m1 5h0m20-6h0m9 6h0m5-6h0m15 5h0m4-1h0m6-4h0m0 2h0m3-2h0m1 0h0m3 4h0m7-4h0m-388 12h0m49 2h0m11-4h0m8 4h0m6-3h0m11 2h0m34-5h0m40 5h0m19-5h0m26 5h0m1-6h0m21 4h0m4-4h0m3 3h0m29-2h0m27 5h0m11-1h0m4 2h0m14-2h0m20 1h0m13-1h0m36 2h0m-377 8h0m4-6h0m0 2h0m56 0h0m10 1h0m27-3h0m43 4h0m8 2h0m20-5h0m13 3h0m18 1h0m14-5h0m6 2h0m13-1h0m9 1h0m4 2h0m3-2h0m4 3h0m36 0h0m4-2h0m3-1h0m10 3h0m2 1h0m15 0h0m12-6h0m14 2h0m31-1h0m-721 11h0m11-5h0m6 3h0m321-1h0m11 0h0m4-1h0m5 6h0m2-3h0m1 1h0m37-4h0m8 1h0m11 4h0m6-3h0m24 2h0m29-5h0m4 7h0m17-2h0m16-4h0m9 6h0m39 0h0m6-3h0m8-4h0m50 0h0m0 1h0m13-1h0m23 5h0m24 0h0m7-1h0m12 1h0m-393 10h0m5-6h0m1 1h0m27 4h0m2-5h0m20 4h0m4-3h0m2 4h0m16-6h0m20 2h0m1-2h0m18 1h0m4 1h0m18 5h0m15-2h0m35-5h0m14 7h0m2-5h0m7 1h0m21-1h0m0 1h0m34 2h0m7 1h0m1 1h0m8-7h0m4 5h0m22 1h0m1-4h0m41-2h0m45 4h0m-730 9h0m11 2h0m1-5h0m369-2h0m24 2h0m7 3h0m30 1h0m19-1h0m1 1h0m32-5h0m6 5h0m3-1h0m6-1h0m50-2h0m13 2h0m7 3h0m16 0h0m17-3h0m3 0h0m3-3h0m9 3h0m14 1h0m22-4h0m3 1h0m1 3h0m1 2h0m22 0h0m11-1h0m5-6h0m10 1h0m6-1h0m4 1h0m5 5h0m2-6h0m-406 9h0m7 2h0m6-2h0m7 0h0m5 3h0m10-3h0m39 2h0m10 0h0m53 2h0m2-1h0m36-1h0m3-2h0m2-1h0m18 4h0m35 0h0m19-3h0m9 4h0m19 0h0m3 2h0m3-7h0m23 1h0m40 1h0m3 0h0m24 0h0m17 2h0m-735 5h0m3 4h0m7-5h0m349 3h0m0-1h0m19-1h0m12-1h0m27 5h0m7-4h0m12 0h0m1 0h0m24 6h0m4-6h0m25 5h0m20-2h0m2-3h0m21 2h0m17 1h0m2-4h0m8 2h0m14 2h0m10 3h0m6-4h0m1-1h0m12 3h0m7 1h0m3-4h0m13-1h0m10 1h0m3 1h0m1-1h0m28 2h0m9-4h0m17 0h0m21 3h0m17 4h0m7-2h0m2-3h0m-754 12h0m35-3h0m13-1h0m313 1h0m3-1h0m38-2h0m8 2h0m14 5h0m3-6h0m34 0h0m6 6h0m17-6h0m12 3h0m2 3h0m7-5h0m32 0h0m2 5h0m12-1h0m6-2h0m31 3h0m22-1h0m5 0h0m47 1h0m11 0h0m20-5h0m2 3h0m4-1h0m17-2h0m3 2h0m13 3h0m-762 7h0m24 1h0m381-4h0m16 4h0m18-3h0m12 2h0m17-3h0m34-1h0m4-1h0m11 1h0m46-2h0m37 1h0m20 2h0m19 0h0m7 2h0m5-3h0m2 5h0m6-2h0m15 1h0m4-4h0m21 5h0m18 0h0m20-3h0m6 3h0m9-2h0m-797 4h0m27 6h0m0-7h0m34 2h0m12 0h0m8-2h0m363 0h0m8 6h0m5 0h0m4-4h0m3 3h0m12 2h0m3-5h0m6 5h0m12-7h0m33 1h0m7 5h0m12-2h0m20-1h0m31-1h0m7-1h0m21 5h0m15 1h0m1-6h0m2-1h0m73 0h0m13 0h0m15 4h0m5-4h0m6 7h0m1-5h0m30 1h0m4 2h0m-770 6h0m50-3h0m18 3h0m405-3h0m1 4h0m20-1h0m17 4h0m7-4h0m3 4h0m1-5h0m13 2h0m10-1h0m14-2h0m49-1h0m80 2h0m4 2h0m5-4h0m2 5h0m1 0h0m10-4h0m43 3h0m-817 5h0m42 2h0m7 3h0m477-1h0m3 1h0m15-3h0m78 3h0m44-1h0m114-4h0m15 6h0m9-4h0m9-1h0m-696 10h0m2 2h0m43-6h0m-135 15h0m33-6h0m5 1h0m35 3h0m2 0h0m44 1h0m0-2h0m-144 5h0m133 0h0m9 19h0m-76 34h0m13 32h0m4 11h0m-14 8h0m10 2h0m303-2h0m-322 11h0m2 2h0m314 5h0m11-2h0m4 18h0m27-1h0m-78 92h0m19 9h0m-25 13h0m3 11h0m7-2h0m12-4h0m15 3h0m3-1h0m-4 8h0m5-3h0m-27 13h0m1-2h0m13 4h0m10-5h0m16 8h0m4 9h0m1 1h0"/><path stroke="#c0acde" d="M932 311h0m478 190h0m-526 227h0m133 87h0m173 64h0m178 90h0m97 159h0m-838 46h0m69 2h0m56 3h0m-168 11h0m33 16h0"/><path stroke="#baa3e1" d="M895 247h0m-12 4h0m31 9h0m12 25h0m254 407h0m27 33h0m-169 13h0m-664 74h0m634 28h0m127 17h0m-9 10h0m315 201h0m-771 79h0m-1 27h0m68 4h0m-15 11h0m29 1h0m-93 10h0m322 98h0m-35 161h0"/><path stroke="#b499e3" d="M903 231h0m8 16h0m23 8h0m483 160h0m66-2h0m-123 47h0m-892 227h0m650-6h0m-16 21h0m48-2h0m53 5h0m-226 74h0m37 59h0m192 58h0m33 40h0m29 14h0m182 102h0m-702 71h0m-18 26h0m-74 16h0m44-4h0m-95 13h0m79-6h0m-19 62h0m311 89h0m-6 2h0m20 21h0m10 6h0m-66 86h0m12 45h0"/><path stroke="#ae8fe6" d="M935 245h0m-33 9h0m70-4h0m40 0h0m-112 18h0m40-2h0m40 16h0m-42 18h0m445 106h0m-6 89h0m-221 197h0m113 3h0m-898 143h0m751 12h0m-1 20h0m-748 51h0m1060 203h0m-3 20h0m-820 15h0m35 4h0m56 20h0m-100 8h0m0-5h0m22 2h0m63 8h0m-39 6h0m10 35h0m285 239h0"/><path stroke="#a886e8" d="M938 238h0m-42 2h0m66 5h0m20 17h0m-86 8h0m158-3h0m469 162h0m-137 6h0m-229 215h0m-165 6h0m156 1h0m20 41h0m40 16h0m-362 42h0m-415 5h0m1137 89h0m88 2h0m-563 12h0m43 1h0m88 30h0m374 2h0m21 29h0m-319 24h0m-530 143h0m585 22h0m-626 18h0m-62 24h0m80 2h0m-101 2h0m50-1h0m447 5h0m-549 10h0m16-4h0m35-3h0m41 2h0m408-1h0m-380 10h0m-70 5h0m33 3h0m73-3h0m-106 16h0m20 55h0m334 86h0m-46 113h0"/><path stroke="#a17ceb" d="M898 238h0m17 17h0m58 14h0m-90 5h0m517 203h0m42 18h0m-298 171h0m36 12h0m-13 12h0m6 7h0m-183 125h0m75 35h0m556 1h0m-393 10h0m-227 9h0m-652 11h0m645 13h0m713 5h0m-98 34h0m69 8h0m-495 113h0m274-2h0m-712 99h0m-137 8h0m46-4h0m-56 8h0m41-1h0m0 15h0m23 15h0m-39 1h0m45 82h0m-7 21h0m316 0h0m-1 10h0m-323 12h0m300 118h0"/><path stroke="#9972ed" d="M947 242h0m-32 17h0m82 15h0m-92 13h0m28 0h0m542 134h0m-297 243h0m-164 18h0m555 184h0m-419 11h0m553 44h0m-527 188h0m-429 27h0m428 1h0m169 9h0m-720 16h0m520 10h0m-535 10h0m77 7h0m-95 6h0m129 0h0m-75 29h0m0 90h0m34-1h0m291 169h0"/><path stroke="#9168ef" d="M1001 260h0m-35 27h0m427 136h0m-4 15h0m115 19h0m-163 8h0m38 8h0m-224 203h0m570 190h0m-15 6h0m-112 32h0m3 1h0m58 5h0m-75 7h0m5 3h0m-175 153h0m-304 22h0m264 35h0m89 9h0m-752 12h0m29-3h0m355 19h0m-488 3h0m630-1h0m-602 8h0m-25 7h0m24 5h0m10 4h0m-42 11h0m136-4h0m-61 89h0m-12 13h0m-21 14h0"/><path stroke="#895ff1" d="M911 232h0m78 36h0m222 462h0m-198 151h0m509 36h0m30 18h0m-179 100h0m-255 81h0m199 8h0m-199 7h0m49 14h0m103 7h0m-669 22h0m20-3h0m44 10h0m0 17h0m-22 3h0m13 86h0m18 4h0m-17 22h0m328 37h0"/><path stroke="#7f55f3" d="M928 244h0m-17 21h0m455 162h0m31-1h0m-218 244h0m428 218h0m-359 46h0m110 75h0m71 45h0m-16 18h0m-230 47h0m-67 1h0m-461 37h0m-40 5h0m104 33h0m-48 89h0m-25 15h0"/><path stroke="#754af5" d="M904 226h0m41 11h0m515 191h0m-283 270h0m475 165h0m-61 49h0m27 3h0m-341 42h0m-177 152h0m-381 37h0m-61 111h0"/><path stroke="#6940f7" d="M903 285h0m617 634h0m50 4h0m-901 320h0m0 70h0"/><path stroke="#5b34f9" d="M1342 1138h0m-687 156h0"/><path stroke="#4b28fb" d="M655 1324h0"/><path stroke="#d3d3d3" d="M908 230h0m21-2h0m3 2h0m5-4h0m-9 11h0m1-4h0m11 4h0m15-2h0m3 2h0m7-3h0m8 3h0m-78 4h0m2 1h0m29-1h0m9 3h0m44 0h0m-88 10h0m6-2h0m18 2h0m5-2h0m17-2h0m33-1h0m13 5h0m15-4h0m20 3h0m16-5h0m-150 15h0m19-5h0m17-2h0m53 7h0m20-6h0m6-1h0m6 0h0m-125 8h0m21 2h0m43 3h0m17 2h0m14-6h0m15 4h0m42-3h0m21 0h0m-166 12h0m10-5h0m29 0h0m62-1h0m10 0h0m4 0h0m-111 10h0m31 4h0m40 1h0m4-6h0m5 2h0m-44 8h0m23-2h0m18 0h0m-47 12h0m9-1h0m10-2h0m451 101h0m7 3h0m1 0h0m9 3h0m7 0h0m22-4h0m-65 10h0m11-1h0m5 3h0m7-5h0m1 4h0m15 1h0m4-3h0m-53 13h0m0-5h0m29 4h0m3-4h0m14 1h0m0 0h0m50 1h0m34-2h0m7 3h0m9-2h0m-144 10h0m11-5h0m9 2h0m9-2h0m13 1h0m9 3h0m4-2h0m42 1h0m1-2h0m11 5h0m4-1h0m2 0h0m-122 7h0m4 2h0m6-6h0m11 7h0m12-4h0m24-3h0m22 4h0m12 2h0m0 0h0m5-4h0m7 3h0m6 0h0m9 1h0m16 1h0m9-1h0m2-6h0m1 6h0m3-2h0m21-1h0m-171 5h0m12 3h0m3 3h0m5 1h0m5-3h0m7-4h0m20 0h0m4 4h0m3 3h0m26-3h0m5-3h0m9 0h0m2 6h0m3-7h0m18 3h0m20-2h0m17 5h0m7-5h0m3 3h0m8 3h0m-177 8h0m2-2h0m3 0h0m2-3h0m17-1h0m2 6h0m12-1h0m10-1h0m4 0h0m1 2h0m16-3h0m17-3h0m1 0h0m12 1h0m3-1h0m9 1h0m23-1h0m8 6h0m7-6h0m22-1h0m10 3h0m-184 6h0m11 2h0m10 1h0m13-1h0m9 0h0m5 1h0m8 2h0m38 1h0m7-2h0m25-3h0m2 5h0m8-7h0m13 2h0m14-2h0m4 5h0m-201 4h0m0-1h0m4 0h0m44 6h0m33 1h0m20-6h0m28 2h0m28-3h0m13 5h0m15-2h0m6-2h0m-176 11h0m4 3h0m24-5h0m2 1h0m31-2h0m4 0h0m9-1h0m14 1h0m23 2h0m1-2h0m5 2h0m25 0h0m5-3h0m1 5h0m11-5h0m-170 11h0m24-2h0m4-1h0m0 7h0m25-4h0m24-2h0m2 3h0m1 3h0m1-1h0m24-2h0m0 3h0m16-5h0m5 0h0m-123 11h0m8 2h0m5-5h0m49 1h0m58 2h0m0 1h0m9-3h0m3-3h0m-130 12h0m5-1h0m16-2h0m8 6h0m16-3h0m0 1h0m40-5h0m5 2h0m13-1h0m7 0h0m-54 7h0m-588 68h0m3 8h0m14 18h0m1 0h0m2-4h0m9 9h0m-4 7h0m3 0h0m5 9h0m5 0h0m3 2h0m7 2h0m-6 2h0m5 3h0m2 8h0m1-3h0m3 1h0m5 4h0m-377 12h0m12 0h0m1 3h0m1 2h0m506-1h0m0-1h0m-542 4h0m0 1h0m18-1h0m9 5h0m5-4h0m17 5h0m491-1h0m12 1h0m8 0h0m3-6h0m8-1h0m22 0h0m103 0h0m24 3h0m-719 6h0m9 6h0m1-1h0m7 0h0m4-6h0m15 0h0m10 0h0m8 1h0m5 4h0m506 2h0m120 0h0m-711 3h0m2 0h0m29-1h0m19 3h0m29 0h0m4-1h0m2 4h0m471-3h0m138 0h0m35 1h0m27 1h0m-733 2h0m20 3h0m2-3h0m4 6h0m4 0h0m8-2h0m521 0h0m9 0h0m92 3h0m30-2h0m23-3h0m-750 10h0m2 0h0m0-2h0m6-2h0m14 7h0m19 0h0m25-1h0m3 0h0m8-6h0m539 0h0m3 5h0m88-3h0m17 3h0m43-1h0m83 3h0m11-2h0m-866 4h0m2 5h0m3-4h0m7 0h0m6-2h0m1 7h0m24-5h0m14 1h0m2 3h0m25-3h0m11-1h0m1-2h0m518 2h0m5-1h0m5-1h0m67 6h0m68-6h0m-730 12h0m3 0h0m12 1h0m45 1h0m4-4h0m7 5h0m587-4h0m6 0h0m9 0h0m27 3h0m35-5h0m23-1h0m-796 10h0m2 5h0m4-1h0m6-4h0m7 5h0m17-4h0m4 0h0m13 3h0m16-5h0m2 2h0m7 3h0m11-4h0m6 5h0m17 0h0m582-1h0m5-1h0m84-5h0m-788 11h0m11 3h0m6-4h0m13 3h0m23-4h0m5 0h0m5 4h0m6-5h0m2 1h0m10 3h0m5 0h0m12 3h0m7-1h0m14-1h0m577-5h0m8 4h0m4 3h0m97-3h0m-804 5h0m12 5h0m23 1h0m17-7h0m6 6h0m17-1h0m7-1h0m13 2h0m375 1h0m196 0h0m10-7h0m-663 9h0m6 4h0m15-5h0m3 6h0m2-4h0m5-1h0m11 1h0m28 4h0m10-4h0m17 2h0m9-2h0m346 2h0m92 2h0m107-3h0m11 3h0m-681 4h0m14 2h0m0 2h0m8 1h0m4-1h0m2-5h0m29 2h0m13-1h0m6 5h0m2-6h0m0 2h0m18-2h0m1 0h0m5-1h0m2 6h0m361-6h0m192 3h0m-679 9h0m2-1h0m2 3h0m19-2h0m24-4h0m12 6h0m12-3h0m19-3h0m7 4h0m9-4h0m24 1h0m-133 13h0m16-2h0m17-4h0m1 4h0m0 1h0m7-3h0m40 4h0m24-1h0m636-3h0m-745 13h0m2-2h0m1-3h0m13 4h0m7-2h0m15-4h0m10 0h0m28 4h0m2 0h0m22-1h0m5 4h0m1 0h0m746-7h0m-855 8h0m3 6h0m5-6h0m6 0h0m1 7h0m3-1h0m2-1h0m4-2h0m8-1h0m3 2h0m5-2h0m4 1h0m21 2h0m4-2h0m8 2h0m18-4h0m2 1h0m2 5h0m0-1h0m583-1h0m-683 7h0m5 1h0m22-3h0m5-1h0m13 6h0m7-5h0m0 2h0m5 3h0m5-2h0m11 2h0m5-6h0m1 1h0m17 2h0m5-2h0m4-1h0m12 1h0m575 2h0m-677 11h0m7 0h0m5-2h0m16-2h0m1-1h0m13-1h0m5 0h0m0 1h0m29 4h0m8 0h0m2-1h0m-111 9h0m4 1h0m4-1h0m16-4h0m14 3h0m1-3h0m1 0h0m20 1h0m34-1h0m7 0h0m10 2h0m8-2h0m6 0h0m1120 4h0m-1248 5h0m4-2h0m1 2h0m1-3h0m2 6h0m3-6h0m22 3h0m2 1h0m36 3h0m10-7h0m3 6h0m22-3h0m5 3h0m1-5h0m1 1h0m542 5h0m5-1h0m594 0h0m-1233 3h0m9 5h0m5-4h0m5 3h0m43-5h0m0 0h0m21 2h0m538 1h0m607-3h0m4 5h0m0-2h0m12 3h0m2-3h0m82 1h0m-1338 11h0m32-2h0m4 2h0m25-2h0m0 0h0m1-4h0m0 5h0m14-6h0m8 5h0m2 1h0m15-4h0m547 1h0m3 4h0m41-4h0m523 4h0m19-6h0m0 5h0m6-3h0m1-1h0m2 3h0m9-4h0m73 3h0m4 0h0m4-2h0m4 2h0m2 1h0m31 1h0m-1363 4h0m7 1h0m6-3h0m10 4h0m4-2h0m7 3h0m11-1h0m7-2h0m0 2h0m3 0h0m18 1h0m13 2h0m591-4h0m25 3h0m9-2h0m517 1h0m2-2h0m3 4h0m10-3h0m34 0h0m4-2h0m3 3h0m17-3h0m2 1h0m23 1h0m1 0h0m1-1h0m-1345 12h0m1-2h0m1 0h0m1 1h0m4-1h0m10-3h0m14 5h0m6-1h0m23-3h0m2 3h0m4-6h0m3 7h0m3-5h0m6-1h0m2 5h0m6 0h0m8-2h0m559-3h0m10 3h0m12-1h0m4-3h0m39 4h0m2-2h0m8 5h0m45 0h0m468 0h0m82-1h0m4-3h0m18 1h0m11 1h0m6 1h0m9-1h0m3-4h0m3 3h0m8 2h0m5-4h0m7-2h0m4 3h0m-1391 9h0m2-2h0m4-2h0m15 5h0m5-1h0m23-1h0m4 3h0m7-3h0m7-2h0m639-1h0m23 3h0m14 2h0m22 1h0m434-1h0m24 0h0m87-4h0m3-1h0m23 6h0m12-2h0m3 3h0m9 0h0m14-7h0m-1375 10h0m12 3h0m6 0h0m3-5h0m3 5h0m1-4h0m14 6h0m14-1h0m604-1h0m11-5h0m61 3h0m16-3h0m15 5h0m20-5h0m3 1h0m413 0h0m27-1h0m27 5h0m5 1h0m0-1h0m11-1h0m18-1h0m64 4h0m3-7h0m3 1h0m2 1h0m1 0h0m5-1h0m19 2h0m-1394 9h0m15-1h0m1-2h0m19 2h0m1 1h0m3 2h0m630-2h0m3 1h0m82-1h0m19-2h0m41 5h0m386-5h0m39-2h0m21 1h0m9 5h0m3-2h0m10 1h0m33 0h0m17 0h0m15-3h0m2-2h0m8 4h0m14 1h0m1-1h0m-1377 11h0m7-4h0m2-1h0m33-1h0m11 4h0m712-4h0m85 6h0m27-6h0m21 0h0m307-1h0m26 2h0m1 3h0m31 2h0m6 0h0m7-1h0m0-1h0m12 0h0m25 2h0m15 0h0m17-7h0m35 3h0m3 4h0m4 0h0m-1388 6h0m4-5h0m1 2h0m8 4h0m5-4h0m7 3h0m6 1h0m29-1h0m769-3h0m11-2h0m13 4h0m29 1h0m5 2h0m321 0h0m3-5h0m1 5h0m16-1h0m11 0h0m3 0h0m9-5h0m0 3h0m4-1h0m51 4h0m39-2h0m2 0h0m17-2h0m5 4h0m0 0h0m-1368 4h0m3-2h0m1 3h0m5-1h0m4 3h0m1-1h0m12-2h0m10 4h0m20-1h0m5-3h0m4 4h0m778-2h0m3-5h0m22 7h0m345 0h0m1-4h0m20 3h0m7-5h0m2 1h0m7 0h0m31 4h0m10-3h0m9 1h0m0 2h0m-1287 9h0m6-1h0m0-4h0m8-2h0m20 2h0m18 0h0m733-1h0m43 2h0m3-1h0m18 5h0m369-4h0m9-3h0m17 1h0m14 1h0m27 5h0m6-5h0m6 1h0m38 0h0m22-3h0m-1373 12h0m12 3h0m5-3h0m31 2h0m818-6h0m30 0h0m301 1h0m7 3h0m2-1h0m12 2h0m4-4h0m19 0h0m7 3h0m58-2h0m15 1h0m42 2h0m1-2h0m9 0h0m-1367 5h0m16 2h0m6-1h0m3-1h0m5 4h0m4-1h0m1-3h0m21 6h0m793-3h0m3 4h0m5-5h0m59 3h0m277 2h0m0 0h0m38-4h0m5 3h0m11 1h0m4 0h0m11-2h0m13-1h0m39-3h0m10 2h0m14-2h0m14 3h0m15-3h0m-1359 9h0m4 1h0m8-1h0m8 3h0m1-1h0m5-4h0m2 1h0m22-1h0m828 6h0m13 0h0m12 0h0m274-2h0m0-4h0m94 6h0m3-2h0m2 1h0m8-4h0m23-1h0m2 6h0m3-5h0m1 0h0m1 2h0m10-3h0m3 4h0m2-1h0m10 4h0m13-3h0m-1366 5h0m11-1h0m9 3h0m10 4h0m38-5h0m30-1h0m767 0h0m53 0h0m37 6h0m230-6h0m7-1h0m1 1h0m10 1h0m14 2h0m4-4h0m5 0h0m12 4h0m55 1h0m15 0h0m45-2h0m7 0h0m-1358 7h0m6 3h0m19 0h0m0 1h0m1-2h0m4-4h0m5 1h0m898 4h0m8-1h0m285-2h0m24-2h0m5 2h0m56-2h0m8 5h0m3-2h0m8 3h0m3-5h0m16 0h0m-1341 12h0m21-1h0m15 0h0m841 2h0m70 0h0m386-1h0m-1344 4h0m9 6h0m8-4h0m26 3h0m49-5h0m846-1h0m10 0h0m12 2h0m-961 9h0m10 3h0m7 0h0m13-2h0m3 0h0m3 2h0m55-6h0m945 4h0m6 2h0m26-6h0m112 4h0m-1178 11h0m12-7h0m10 4h0m7-4h0m49 3h0m920 4h0m11-6h0m15 2h0m19 1h0m8 2h0m20-4h0m17 5h0m-1088 3h0m951 1h0m39 4h0m5 0h0m15-2h0m23 2h0m1-3h0m47 0h0m15 2h0m-1093 2h0m20 2h0m4 2h0m4 1h0m0-3h0m7 2h0m15-2h0m46 0h0m806 4h0m20-6h0m59 7h0m2-7h0m8 2h0m1 3h0m0 2h0m15 0h0m8-4h0m4 3h0m11-5h0m16 6h0m6-1h0m9-3h0m10 2h0m2-3h0m11-2h0m76 2h0m-1148 9h0m4-1h0m16 3h0m0 1h0m953-4h0m25 4h0m1-3h0m13 0h0m7 4h0m32 0h0m6-2h0m-1060 4h0m9-1h0m3 0h0m879 0h0m43 2h0m26 1h0m12 0h0m11 0h0m7 4h0m46-1h0m19-3h0m1 0h0m54 1h0m8-1h0m-1124 11h0m7-1h0m8-5h0m5 4h0m6-2h0m8 0h0m8-1h0m1 6h0m16-5h0m18 1h0m781 3h0m29 1h0m90-6h0m2 4h0m16-5h0m2 5h0m14 1h0m9 0h0m6-4h0m11 0h0m11 5h0m5-3h0m2 3h0m22-4h0m14 1h0m-1086 4h0m0 0h0m9 6h0m12-6h0m2 0h0m11 7h0m3-1h0m834-1h0m20-5h0m48 3h0m38 2h0m11 0h0m0-2h0m2 1h0m0-2h0m1 4h0m5-5h0m16 5h0m0 1h0m8-5h0m3 1h0m8-3h0m2 6h0m6 0h0m9-4h0m16 2h0m2-2h0m4-2h0m18 7h0m25 0h0m30-7h0m-1130 8h0m8 3h0m4 2h0m6 2h0m864-5h0m10 2h0m14-2h0m34-1h0m29 0h0m1 1h0m4-2h0m16 1h0m19 0h0m5 0h0m3 6h0m0-6h0m20 2h0m4 0h0m29 2h0m12-3h0m3 2h0m-1082 6h0m16 1h0m8 4h0m815-5h0m7-1h0m5 1h0m10 1h0m78-1h0m6 4h0m5-6h0m24 0h0m6 4h0m39-3h0m3 6h0m5-7h0m14 6h0m8 0h0m0-4h0m25 0h0m15 4h0m-1073 7h0m5-3h0m11 1h0m2-3h0m822 4h0m27-1h0m19 4h0m31 0h0m7-2h0m3-1h0m12-2h0m25 5h0m17-3h0m10-3h0m9 0h0m19-1h0m6 3h0m10 1h0m33-3h0m6 5h0m0 0h0m-1075 7h0m9-3h0m3 2h0m10 2h0m799-4h0m3 4h0m4-5h0m48 2h0m4-3h0m21 3h0m5 0h0m34 3h0m1-3h0m4 3h0m3 1h0m10-2h0m2-3h0m7 5h0m3-4h0m6 1h0m2-2h0m7 5h0m2 0h0m0-1h0m12-2h0m1-4h0m3 4h0m6 2h0m23-5h0m3 2h0m19 3h0m14-1h0m2 2h0m-258 7h0m5-2h0m6 1h0m3-3h0m31-1h0m7 4h0m16-1h0m28 0h0m2 2h0m12-6h0m9 6h0m1 0h0m8 1h0m7-3h0m25 0h0m13 3h0m2-3h0m4-3h0m1 4h0m7-3h0m8 3h0m4-1h0m6 3h0m2-6h0m3 2h0m6 3h0m13-4h0m-214 11h0m3 0h0m58-4h0m41 5h0m34-1h0m3 2h0m5-2h0m13 1h0m26 0h0m4-5h0m12 3h0m5 0h0m2-4h0m9 3h0m5 0h0m0 4h0m1-1h0m1-2h0m9 1h0m-272 3h0m6 2h0m12 1h0m4 1h0m6 1h0m7-4h0m6 2h0m18 4h0m49-1h0m2-4h0m3 4h0m15-2h0m11-3h0m29 6h0m1-4h0m2 4h0m5-6h0m23 3h0m5 3h0m6-7h0m5 3h0m4 0h0m10 1h0m5-4h0m7 6h0m29-3h0m17-2h0m3 4h0m6-1h0m1-3h0m7-1h0m2 0h0m-306 8h0m9 6h0m9 1h0m1 0h0m6-4h0m5-2h0m8 1h0m34 2h0m3 3h0m17-7h0m51 7h0m11-5h0m9 0h0m40 2h0m12 2h0m24-5h0m8 0h0m21 6h0m7-1h0m1-2h0m8-1h0m1 0h0m18-3h0m2 2h0m-385 9h0m7 1h0m4 0h0m3 0h0m16 2h0m32 0h0m7-2h0m16-1h0m3-2h0m0 2h0m71 3h0m106-1h0m5 2h0m1-7h0m2 6h0m5-2h0m7-3h0m4 4h0m22 0h0m13 0h0m3-4h0m0 1h0m12 1h0m12 2h0m16 1h0m6-5h0m-676 11h0m312 0h0m25 3h0m14-7h0m10 7h0m14-5h0m19 4h0m14-5h0m3 2h0m2 2h0m8-1h0m13-3h0m0-1h0m81 3h0m9 4h0m1-1h0m1 0h0m10-3h0m1 0h0m1 3h0m0 0h0m0 1h0m6-2h0m6 1h0m8-3h0m5 0h0m10 2h0m9-2h0m7 4h0m7-1h0m1-3h0m4 2h0m24-1h0m19-2h0m18 5h0m15-1h0m9-4h0m4-1h0m1-1h0m1 5h0m1-1h0m-396 9h0m18-4h0m12 6h0m2-7h0m10 7h0m21-7h0m41 5h0m0 0h0m1-3h0m27-1h0m68 5h0m15-2h0m10 2h0m0-4h0m21 0h0m28-2h0m20 2h0m9 5h0m4-5h0m4 3h0m8-1h0m11 2h0m1-4h0m7 5h0m19-5h0m24-2h0m9 4h0m-700 4h0m9 4h0m302-4h0m4 1h0m4 6h0m2-2h0m7 1h0m7-2h0m2 3h0m19-3h0m13-1h0m1 4h0m71-5h0m8 1h0m1 3h0m45 0h0m69-5h0m24 6h0m8-3h0m7-1h0m19 3h0m32-6h0m30 6h0m14 1h0m-735 4h0m20 2h0m1 0h0m21 0h0m297-2h0m5 0h0m19-3h0m6 5h0m21-5h0m3 7h0m50-4h0m2-2h0m31 4h0m0-4h0m11 1h0m2 1h0m18-2h0m16 4h0m7 1h0m42 1h0m80-4h0m12 3h0m9-6h0m28 6h0m0-6h0m10 3h0m17 0h0m-706 6h0m5 1h0m1 1h0m1 1h0m328-2h0m4 0h0m20 1h0m14 1h0m3 0h0m18-3h0m7 4h0m3-3h0m9 2h0m6 0h0m1-2h0m2 2h0m8 1h0m10 1h0m6-1h0m20-3h0m11-2h0m2 7h0m4-7h0m78 1h0m22 3h0m11-4h0m19 0h0m13 4h0m1 3h0m9-7h0m4 6h0m0-2h0m21-4h0m1 1h0m5 0h0m1-1h0m10 1h0m6 6h0m8-1h0m4-3h0m20 0h0m-768 10h0m36-2h0m355-1h0m16-2h0m17 4h0m9 0h0m15-3h0m6 0h0m1 4h0m19 0h0m14 2h0m15-6h0m16 6h0m28 0h0m13-7h0m8 0h0m13 3h0m15 1h0m46-1h0m1-1h0m2 4h0m28-6h0m12 5h0m9-2h0m6-1h0m6-1h0m7 4h0m6-4h0m9 2h0m1-2h0m10-1h0m25 1h0m-791 14h0m18-7h0m43 7h0m337 0h0m46-1h0m9-5h0m8 3h0m31-2h0m27-1h0m9 4h0m37-5h0m2 3h0m20 2h0m2 2h0m18-5h0m11 1h0m15 0h0m1 4h0m22-7h0m23 5h0m0-3h0m30 4h0m13 1h0m3-7h0m8 2h0m5 2h0m1 0h0m5-4h0m4 4h0m0-3h0m13 6h0m-741 8h0m12-6h0m7 4h0m8-1h0m16 2h0m3-3h0m338-3h0m6 5h0m5 2h0m22-4h0m4 0h0m36 1h0m33 2h0m4-1h0m14-1h0m21-2h0m25 1h0m2-2h0m27 0h0m14 0h0m25 3h0m36-2h0m3-1h0m0-1h0m3 5h0m3-4h0m2-1h0m6 5h0m10 0h0m62-4h0m1 2h0m-844 7h0m30 4h0m58-3h0m3-2h0m44 2h0m5 0h0m363 0h0m7 4h0m7 0h0m8-6h0m2 0h0m40 5h0m5-2h0m0-3h0m6 6h0m4-6h0m4 4h0m14 2h0m0 0h0m1 0h0m5-3h0m11-3h0m2 5h0m9-2h0m14 3h0m7 0h0m2-4h0m3 4h0m25 0h0m4-2h0m10-4h0m3 4h0m32-2h0m14 3h0m12-4h0m1 3h0m1 2h0m5-2h0m6-3h0m23-1h0m2-1h0m25 3h0m20-2h0m-805 10h0m41 1h0m6 3h0m50-3h0m23-2h0m366 1h0m28-1h0m1-1h0m2 1h0m19 1h0m4 4h0m4-4h0m0 1h0m10-1h0m10 1h0m10-4h0m7 5h0m1-1h0m35 2h0m8 0h0m83-5h0m11 0h0m6-1h0m19 2h0m28-1h0m-813 8h0m44 4h0m34-2h0m44 1h0m25-3h0m12 3h0m7-4h0m356 5h0m10-2h0m2-2h0m52-1h0m5 0h0m1 2h0m5 1h0m51-1h0m46-2h0m74 4h0m7 0h0m8 3h0m12-5h0m4 3h0m-799 4h0m6 3h0m85-2h0m40-1h0m15 4h0m1-5h0m12 5h0m397-4h0m7 1h0m9-2h0m13 1h0m5-1h0m19 0h0m-515 9h0m32 5h0m41-1h0m-120 4h0m26-1h0m85 0h0m-89 19h0m14 21h0m1 0h0m-13 9h0m15 44h0m5 5h0m-26 11h0m10 6h0m-14 5h0m24 1h0m293 6h0m7 11h0m23 13h0m3-3h0m-54 81h0m-19 3h0m14 0h0m8 2h0m0 8h0m19 16h0m-36 10h0m16-2h0m2 10h0m11-3h0m8 3h0m2 6h0m10 9h0m4 4h0"/><path stroke="#c0acde" d="M957 265h0m420 143h0m-359 423h0m-2 12h0m616-3h0m-531 11h0m30 12h0m412 48h0m120 9h0m-384 33h0m-643 228h0m116-1h0m-124 14h0"/><path stroke="#baa3e1" d="M1175 704h0m-99 20h0m-36 13h0m575 137h0m-1254 126h0m363 166h0m-77 13h0m15 11h0m277 268h0"/><path stroke="#b499e3" d="M887 278h0m8 4h0m628 177h0m-178 23h0m-334 181h0m-545 21h0m646 13h0m-149 51h0m0 4h0m-565 51h0m607 17h0m93 22h0m70 33h0m107 55h0m-910 26h0m859 112h0m-493 75h0m-6 5h0m-99 11h0m44 38h0m61 3h0m-75 39h0"/><path stroke="#ae8fe6" d="M938 259h0m7 4h0m19-6h0m-89 7h0m80 9h0m1-1h0m538 161h0m-495 222h0m51-3h0m1 0h0m-174 4h0m294 1h0m-135 21h0m208 19h0m-34 29h0m-153 4h0m-194 14h0m-501 47h0m1296 68h0m-547 8h0m90 25h0m175 83h0m-232 126h0m-392 13h0m-93 39h0m-38 22h0m19-2h0m93 9h0m629-1h0m-721 4h0m47-1h0m53 17h0m-81 46h0m297 183h0"/><path stroke="#a886e8" d="M948 224h0m-26 23h0m19 22h0m54-5h0m-26 28h0m-29 6h0m463 152h0m29 10h0m-98 7h0m-286 186h0m-541 7h0m534 1h0m130 14h0m5 0h0m33 36h0m23-1h0m-268 15h0m246-1h0m-346 15h0m-469 65h0m-37 25h0m747 18h0m497-2h0m82-1h0m-543 18h0m519-4h0m-34 27h0m-427 29h0m225 118h0m-159 44h0m104 6h0m-250 32h0m-359 12h0m322 22h0m-435 5h0m63 5h0m43 1h0m509-5h0m-602 12h0m52 7h0m-46 12h0m-36 13h0m102-4h0m-96 6h0m49 20h0m-9 76h0m-5 28h0m317 9h0m-9 15h0m-30 85h0m-4 8h0m-16 12h0m38 22h0"/><path stroke="#a17ceb" d="M924 228h0m-32 9h0m10 2h0m27 8h0m107 1h0m-71 27h0m-35 9h0m12 5h0m555 141h0m-38 13h0m69 3h0m-492 217h0m100 1h0m-11 8h0m-88 11h0m233 13h0m-60 22h0m-792 28h0m623 40h0m-23 32h0m-1 40h0m668 6h0m49 4h0m-604 7h0m86 3h0m360 11h0m15 5h0m-15 8h0m-233 92h0m62 56h0m61 33h0m-21 10h0m-36 11h0m-661 17h0m581 1h0m118 5h0m-25 4h0m-796 26h0m-15 9h0m50-5h0m526 3h0m-540 8h0m68-2h0m-116 12h0m-20 6h0m28-3h0m51 2h0m-71 5h0m136 0h0m-63 27h0m7 36h0m-1 36h0m319 38h0m6 22h0m4-4h0m-50 98h0"/><path stroke="#9972ed" d="M936 242h0m-37 6h0m-4 19h0m129-1h0m-67 13h0m-55 5h0m481 147h0m94 5h0m-304 214h0m-184 11h0m39 3h0m146 8h0m-155 8h0m31 167h0m-51 41h0m588 45h0m-286 66h0m165 64h0m-355 37h0m-371 28h0m-26 9h0m499 0h0m-481 10h0m400 4h0m-498 1h0m108 8h0m-83 19h0m11 1h0m-87 11h0m150 8h0m253 135h0m4 16h0"/><path stroke="#9168ef" d="M915 227h0m-4 8h0m66 19h0m-63 12h0m54 14h0m444 149h0m-14 8h0m-249 220h0m-51 55h0m90 0h0m-117 127h0m593 31h0m-462 14h0m28 24h0m297 25h0m-239 14h0m60 51h0m-155 72h0m-441 50h0m-35 15h0m-70 24h0m60 8h0m-61 6h0m-36 5h0m39-2h0m-55 10h0m24 4h0m43 25h0m12 68h0m-19 31h0m322 12h0m-307 3h0m303 10h0m-28 119h0m45 34h0"/><path stroke="#895ff1" d="M942 233h0m-25 13h0m-1 23h0m58 0h0m-55 6h0m777 545h0m49 21h0m-192 34h0m40 10h0m-361 24h0m401 19h0m-374 14h0m40 13h0m-205 150h0m52 19h0m-54 13h0m-465 18h0m96 1h0m-93 34h0m100-5h0m-148 8h0m396 110h0m-302 16h0m323 34h0"/><path stroke="#7f55f3" d="M906 234h0m-9 9h0m488 181h0m100 47h0m-352 197h0m479 138h0m53 24h0m-50 103h0m-371 165h0m-634 69h0m528 17h0m-483 95h0m7 12h0"/><path stroke="#754af5" d="M913 245h0m40-2h0m-72 13h0m3 18h0m81 1h0m567 169h0m90 425h0m-253 241h0m-262 7h0m-520 83h0m24 4h0m54 66h0m-11 22h0m-10 15h0"/><path stroke="#6940f7" d="M1150 649h0m-127 82h0m275 421h0m-629 94h0"/><path stroke="#5b34f9" d="M603 1160h0m46 125h0"/><path stroke="#4b28fb" d="M669 1319h0"/></g>
<rect x="219" y="141" width="4" height="1465" fill="#000"/>
<rect x="219" y="1602" width="1652" height="4" fill="#000"/>
<rect x="206" y="160.30" width="14" height="4" fill="#000"/>
<text transform="translate(195,182.80) scale(1,1.04)" text-anchor="end" font-size="50">15</text>
<rect x="206" y="397.45" width="14" height="4" fill="#000"/>
<text transform="translate(195,419.95) scale(1,1.04)" text-anchor="end" font-size="50">10</text>
<rect x="206" y="634.60" width="14" height="4" fill="#000"/>
<text transform="translate(195,657.10) scale(1,1.04)" text-anchor="end" font-size="50">5</text>
<rect x="206" y="871.75" width="14" height="4" fill="#000"/>
<text transform="translate(195,894.25) scale(1,1.04)" text-anchor="end" font-size="50">0</text>
<rect x="206" y="1108.90" width="14" height="4" fill="#000"/>
<text transform="translate(195,1131.40) scale(1,1.04)" text-anchor="end" font-size="50">-5</text>
<rect x="206" y="1346.05" width="14" height="4" fill="#000"/>
<text transform="translate(195,1368.55) scale(1,1.04)" text-anchor="end" font-size="50">-10</text>
<rect x="206" y="1583.20" width="14" height="4" fill="#000"/>
<text transform="translate(195,1605.70) scale(1,1.04)" text-anchor="end" font-size="50">-15</text>
<rect x="236.00" y="1605" width="4" height="14" fill="#000"/>
<text transform="translate(238.00,1669.5) scale(1,1.04)" text-anchor="middle" font-size="50">-15</text>
<rect x="524.00" y="1605" width="4" height="14" fill="#000"/>
<text transform="translate(526.00,1669.5) scale(1,1.04)" text-anchor="middle" font-size="50">-10</text>
<rect x="812.00" y="1605" width="4" height="14" fill="#000"/>
<text transform="translate(814.00,1669.5) scale(1,1.04)" text-anchor="middle" font-size="50">-5</text>
<rect x="1100.00" y="1605" width="4" height="14" fill="#000"/>
<text transform="translate(1102.00,1669.5) scale(1,1.04)" text-anchor="middle" font-size="50">0</text>
<rect x="1388.00" y="1605" width="4" height="14" fill="#000"/>
<text transform="translate(1390.00,1669.5) scale(1,1.04)" text-anchor="middle" font-size="50">5</text>
<rect x="1676.00" y="1605" width="4" height="14" fill="#000"/>
<text transform="translate(1678.00,1669.5) scale(1,1.04)" text-anchor="middle" font-size="50">10</text>
<text transform="translate(938,102) scale(1,1.045)" font-size="66.67" font-weight="bold">AP1S2</text>
<text transform="translate(928.2,1737.5) scale(1,1.04)" font-size="58.33">UMAP_1</text>
<text transform="translate(95.8,990) rotate(-90) scale(1,1.04)" font-size="58.33">UMAP_2</text>
<rect x="1927" y="714" width="64" height="319.4" fill="url(#g)"/>
<rect x="1927" y="1032.60" width="12" height="1.6" fill="#fff"/>
<rect x="1979" y="1032.60" width="12" height="1.6" fill="#fff"/>
<text transform="translate(2020,1053.70) scale(1,1.04)" font-size="50">0</text>
<rect x="1927" y="948.60" width="12" height="1.6" fill="#fff"/>
<rect x="1979" y="948.60" width="12" height="1.6" fill="#fff"/>
<text transform="translate(2020,969.70) scale(1,1.04)" font-size="50">1</text>
<rect x="1927" y="864.60" width="12" height="1.6" fill="#fff"/>
<rect x="1979" y="864.60" width="12" height="1.6" fill="#fff"/>
<text transform="translate(2020,885.70) scale(1,1.04)" font-size="50">2</text>
<rect x="1927" y="780.60" width="12" height="1.6" fill="#fff"/>
<rect x="1979" y="780.60" width="12" height="1.6" fill="#fff"/>
<text transform="translate(2020,801.70) scale(1,1.04)" font-size="50">3</text>
</svg></body></html>
